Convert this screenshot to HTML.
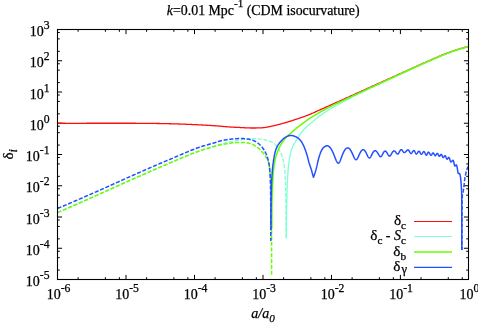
<!DOCTYPE html>
<html><head><meta charset="utf-8"><title>plot</title><style>html,body{margin:0;padding:0;background:#fff;width:478px;height:326px;overflow:hidden}</style></head><body>
<svg width="478" height="326" viewBox="0 0 478 326" style="position:absolute;left:0;top:0;will-change:transform">
<defs><clipPath id="c"><rect x="57.5" y="29.5" width="411.0" height="250.0"/></clipPath></defs>
<path d="M78.12 279.5 v-2.3 M78.12 29.5 v2.3 M105.38 279.5 v-2.3 M105.38 29.5 v2.3 M119.36 279.5 v-2.3 M119.36 29.5 v2.3 M126.00 279.5 v-4.6 M126.00 29.5 v4.6 M146.62 279.5 v-2.3 M146.62 29.5 v2.3 M173.88 279.5 v-2.3 M173.88 29.5 v2.3 M187.86 279.5 v-2.3 M187.86 29.5 v2.3 M194.50 279.5 v-4.6 M194.50 29.5 v4.6 M215.12 279.5 v-2.3 M215.12 29.5 v2.3 M242.38 279.5 v-2.3 M242.38 29.5 v2.3 M256.36 279.5 v-2.3 M256.36 29.5 v2.3 M263.00 279.5 v-4.6 M263.00 29.5 v4.6 M283.62 279.5 v-2.3 M283.62 29.5 v2.3 M310.88 279.5 v-2.3 M310.88 29.5 v2.3 M324.86 279.5 v-2.3 M324.86 29.5 v2.3 M331.50 279.5 v-4.6 M331.50 29.5 v4.6 M352.12 279.5 v-2.3 M352.12 29.5 v2.3 M379.38 279.5 v-2.3 M379.38 29.5 v2.3 M393.36 279.5 v-2.3 M393.36 29.5 v2.3 M400.40 279.5 v-4.6 M400.40 29.5 v4.6 M421.02 279.5 v-2.3 M421.02 29.5 v2.3 M448.28 279.5 v-2.3 M448.28 29.5 v2.3 M462.26 279.5 v-2.3 M462.26 29.5 v2.3 M57.5 270.09 h2.3 M468.5 270.09 h-2.3 M57.5 257.66 h2.3 M468.5 257.66 h-2.3 M57.5 251.28 h2.3 M468.5 251.28 h-2.3 M57.5 248.25 h4.6 M468.5 248.25 h-4.6 M57.5 238.84 h2.3 M468.5 238.84 h-2.3 M57.5 226.41 h2.3 M468.5 226.41 h-2.3 M57.5 220.03 h2.3 M468.5 220.03 h-2.3 M57.5 217.00 h4.6 M468.5 217.00 h-4.6 M57.5 207.59 h2.3 M468.5 207.59 h-2.3 M57.5 195.16 h2.3 M468.5 195.16 h-2.3 M57.5 188.78 h2.3 M468.5 188.78 h-2.3 M57.5 185.75 h4.6 M468.5 185.75 h-4.6 M57.5 176.34 h2.3 M468.5 176.34 h-2.3 M57.5 163.91 h2.3 M468.5 163.91 h-2.3 M57.5 157.53 h2.3 M468.5 157.53 h-2.3 M57.5 154.50 h4.6 M468.5 154.50 h-4.6 M57.5 145.09 h2.3 M468.5 145.09 h-2.3 M57.5 132.66 h2.3 M468.5 132.66 h-2.3 M57.5 126.28 h2.3 M468.5 126.28 h-2.3 M57.5 123.25 h4.6 M468.5 123.25 h-4.6 M57.5 113.84 h2.3 M468.5 113.84 h-2.3 M57.5 101.41 h2.3 M468.5 101.41 h-2.3 M57.5 95.03 h2.3 M468.5 95.03 h-2.3 M57.5 92.00 h4.6 M468.5 92.00 h-4.6 M57.5 82.59 h2.3 M468.5 82.59 h-2.3 M57.5 70.16 h2.3 M468.5 70.16 h-2.3 M57.5 63.78 h2.3 M468.5 63.78 h-2.3 M57.5 60.75 h4.6 M468.5 60.75 h-4.6 M57.5 51.34 h2.3 M468.5 51.34 h-2.3 M57.5 38.91 h2.3 M468.5 38.91 h-2.3 M57.5 32.53 h2.3 M468.5 32.53 h-2.3" stroke="#000" stroke-width="1" fill="none"/>
<g clip-path="url(#c)" fill="none" stroke-linejoin="round">
<path d="M57.50 123.25 L58.00 123.25 L58.50 123.25 L59.00 123.26 L59.50 123.26 L60.00 123.26 L60.50 123.26 L61.00 123.26 L61.50 123.27 L62.00 123.27 L62.50 123.27 L63.00 123.27 L63.50 123.27 L64.00 123.27 L64.50 123.27 L65.00 123.27 L65.50 123.28 L66.00 123.28 L66.50 123.28 L67.00 123.28 L67.50 123.28 L68.00 123.28 L68.50 123.28 L69.00 123.28 L69.50 123.28 L70.00 123.28 L70.50 123.28 L71.00 123.28 L71.50 123.28 L72.00 123.28 L72.50 123.28 L73.00 123.28 L73.50 123.28 L74.00 123.28 L74.50 123.28 L75.00 123.28 L75.50 123.28 L76.00 123.28 L76.50 123.28 L77.00 123.28 L77.50 123.28 L78.00 123.28 L78.50 123.28 L79.00 123.28 L79.50 123.28 L80.00 123.28 L80.50 123.28 L81.00 123.28 L81.50 123.28 L82.00 123.28 L82.50 123.28 L83.00 123.28 L83.50 123.28 L84.00 123.28 L84.50 123.28 L85.00 123.28 L85.50 123.28 L86.00 123.28 L86.50 123.27 L87.00 123.27 L87.50 123.27 L88.00 123.27 L88.50 123.27 L89.00 123.27 L89.50 123.27 L90.00 123.27 L90.50 123.27 L91.00 123.27 L91.50 123.27 L92.00 123.27 L92.50 123.26 L93.00 123.26 L93.50 123.26 L94.00 123.26 L94.50 123.26 L95.00 123.26 L95.50 123.26 L96.00 123.26 L96.50 123.26 L97.00 123.26 L97.50 123.25 L98.00 123.25 L98.50 123.25 L99.00 123.25 L99.50 123.25 L100.00 123.25 L100.50 123.25 L101.00 123.25 L101.50 123.25 L102.00 123.25 L102.50 123.25 L103.00 123.24 L103.50 123.24 L104.00 123.24 L104.50 123.24 L105.00 123.24 L105.50 123.24 L106.00 123.24 L106.50 123.24 L107.00 123.24 L107.50 123.24 L108.00 123.24 L108.50 123.24 L109.00 123.24 L109.50 123.24 L110.00 123.24 L110.50 123.23 L111.00 123.23 L111.50 123.23 L112.00 123.23 L112.50 123.23 L113.00 123.23 L113.50 123.23 L114.00 123.23 L114.50 123.23 L115.00 123.23 L115.50 123.23 L116.00 123.23 L116.50 123.23 L117.00 123.23 L117.50 123.23 L118.00 123.23 L118.50 123.23 L119.00 123.23 L119.50 123.23 L120.00 123.23 L120.50 123.23 L121.00 123.23 L121.50 123.23 L122.00 123.23 L122.50 123.23 L123.00 123.24 L123.50 123.24 L124.00 123.24 L124.50 123.24 L125.00 123.24 L125.50 123.24 L126.00 123.24 L126.50 123.24 L127.00 123.24 L127.50 123.24 L128.00 123.25 L128.50 123.25 L129.00 123.25 L129.50 123.25 L130.00 123.25 L130.50 123.25 L131.00 123.25 L131.50 123.26 L132.00 123.26 L132.50 123.26 L133.00 123.26 L133.50 123.26 L134.00 123.27 L134.50 123.27 L135.00 123.27 L135.50 123.27 L136.00 123.28 L136.50 123.28 L137.00 123.28 L137.50 123.28 L138.00 123.29 L138.50 123.29 L139.00 123.29 L139.50 123.30 L140.00 123.30 L140.50 123.30 L141.00 123.31 L141.50 123.31 L142.00 123.31 L142.50 123.32 L143.00 123.32 L143.50 123.33 L144.00 123.33 L144.50 123.33 L145.00 123.34 L145.50 123.34 L146.00 123.35 L146.50 123.35 L147.00 123.36 L147.50 123.36 L148.00 123.37 L148.50 123.37 L149.00 123.38 L149.50 123.38 L150.00 123.39 L150.50 123.39 L151.00 123.40 L151.50 123.41 L152.00 123.41 L152.50 123.42 L153.00 123.42 L153.50 123.43 L154.00 123.44 L154.50 123.45 L155.00 123.45 L155.50 123.46 L156.00 123.47 L156.50 123.47 L157.00 123.48 L157.50 123.49 L158.00 123.50 L158.50 123.51 L159.00 123.51 L159.50 123.52 L160.00 123.53 L160.50 123.54 L161.00 123.55 L161.50 123.56 L162.00 123.57 L162.50 123.58 L163.00 123.59 L163.50 123.60 L164.00 123.61 L164.50 123.62 L165.00 123.63 L165.50 123.64 L166.00 123.65 L166.50 123.66 L167.00 123.67 L167.50 123.68 L168.00 123.70 L168.50 123.71 L169.00 123.72 L169.50 123.73 L170.00 123.74 L170.50 123.76 L171.00 123.77 L171.50 123.78 L172.00 123.80 L172.50 123.81 L173.00 123.82 L173.50 123.84 L174.00 123.85 L174.50 123.87 L175.00 123.88 L175.50 123.90 L176.00 123.91 L176.50 123.93 L177.00 123.94 L177.50 123.96 L178.00 123.97 L178.50 123.99 L179.00 124.01 L179.50 124.02 L180.00 124.04 L180.50 124.06 L181.00 124.07 L181.50 124.09 L182.00 124.11 L182.50 124.13 L183.00 124.14 L183.50 124.16 L184.00 124.18 L184.50 124.20 L185.00 124.22 L185.50 124.24 L186.00 124.26 L186.50 124.28 L187.00 124.30 L187.50 124.32 L188.00 124.34 L188.50 124.36 L189.00 124.38 L189.50 124.40 L190.00 124.42 L190.50 124.44 L191.00 124.46 L191.50 124.48 L192.00 124.51 L192.50 124.53 L193.00 124.55 L193.50 124.57 L194.00 124.60 L194.50 124.62 L195.00 124.64 L195.50 124.67 L196.00 124.69 L196.50 124.71 L197.00 124.74 L197.50 124.76 L198.00 124.79 L198.50 124.81 L199.00 124.84 L199.50 124.86 L200.00 124.89 L200.50 124.91 L201.00 124.94 L201.50 124.96 L202.00 124.99 L202.50 125.02 L203.00 125.04 L203.50 125.07 L204.00 125.10 L204.50 125.12 L205.00 125.15 L205.50 125.18 L206.00 125.21 L206.50 125.23 L207.00 125.26 L207.50 125.29 L208.00 125.32 L208.50 125.35 L209.00 125.38 L209.50 125.41 L210.00 125.44 L210.50 125.47 L211.00 125.50 L211.50 125.53 L212.00 125.56 L212.50 125.60 L213.00 125.63 L213.50 125.66 L214.00 125.70 L214.50 125.73 L215.00 125.77 L215.50 125.81 L216.00 125.84 L216.50 125.88 L217.00 125.92 L217.50 125.96 L218.00 126.00 L218.50 126.04 L219.00 126.08 L219.50 126.13 L220.00 126.17 L220.50 126.21 L221.00 126.26 L221.50 126.30 L222.00 126.35 L222.50 126.39 L223.00 126.44 L223.50 126.48 L224.00 126.53 L224.50 126.57 L225.00 126.61 L225.50 126.66 L226.00 126.70 L226.50 126.74 L227.00 126.78 L227.50 126.82 L228.00 126.86 L228.50 126.90 L229.00 126.93 L229.50 126.97 L230.00 127.00 L230.50 127.03 L231.00 127.06 L231.50 127.09 L232.00 127.12 L232.50 127.14 L233.00 127.17 L233.50 127.20 L234.00 127.22 L234.50 127.24 L235.00 127.27 L235.50 127.29 L236.00 127.31 L236.50 127.33 L237.00 127.36 L237.50 127.38 L238.00 127.40 L238.50 127.43 L239.00 127.45 L239.50 127.47 L240.00 127.50 L240.50 127.53 L241.00 127.55 L241.50 127.58 L242.00 127.61 L242.50 127.64 L243.00 127.67 L243.50 127.70 L244.00 127.72 L244.50 127.75 L245.00 127.78 L245.50 127.80 L246.00 127.83 L246.50 127.85 L247.00 127.88 L247.50 127.90 L248.00 127.91 L248.50 127.93 L249.00 127.95 L249.50 127.96 L250.00 127.97 L250.50 127.98 L251.00 127.99 L251.50 128.00 L252.00 128.00 L252.50 128.00 L253.00 128.00 L253.50 128.00 L254.00 128.00 L254.50 128.00 L255.00 127.99 L255.50 127.99 L256.00 127.98 L256.50 127.97 L257.00 127.97 L257.50 127.96 L258.00 127.95 L258.50 127.94 L259.00 127.93 L259.50 127.92 L260.00 127.90 L260.50 127.89 L261.00 127.86 L261.50 127.83 L262.00 127.80 L262.50 127.76 L263.00 127.71 L263.50 127.66 L264.00 127.59 L264.50 127.53 L265.00 127.46 L265.50 127.38 L266.00 127.30 L266.50 127.22 L267.00 127.13 L267.50 127.03 L268.00 126.94 L268.50 126.84 L269.00 126.74 L269.50 126.64 L270.00 126.53 L270.50 126.43 L271.00 126.32 L271.50 126.21 L272.00 126.10 L272.50 125.99 L273.00 125.88 L273.50 125.77 L274.00 125.65 L274.50 125.54 L275.00 125.43 L275.50 125.31 L276.00 125.19 L276.50 125.07 L277.00 124.95 L277.50 124.83 L278.00 124.70 L278.50 124.57 L279.00 124.44 L279.50 124.31 L280.00 124.18 L280.50 124.04 L281.00 123.90 L281.50 123.77 L282.00 123.63 L282.50 123.49 L283.00 123.35 L283.50 123.21 L284.00 123.07 L284.50 122.93 L285.00 122.79 L285.50 122.64 L286.00 122.50 L286.50 122.35 L287.00 122.20 L287.50 122.05 L288.00 121.90 L288.50 121.74 L289.00 121.59 L289.50 121.43 L290.00 121.27 L290.50 121.11 L291.00 120.95 L291.50 120.79 L292.00 120.63 L292.50 120.47 L293.00 120.31 L293.50 120.15 L294.00 119.98 L294.50 119.82 L295.00 119.66 L295.50 119.49 L296.00 119.33 L296.50 119.16 L297.00 119.00 L297.50 118.83 L298.00 118.66 L298.50 118.50 L299.00 118.33 L299.50 118.16 L300.00 117.99 L300.50 117.82 L301.00 117.65 L301.50 117.47 L302.00 117.30 L302.50 117.13 L303.00 116.95 L303.50 116.77 L304.00 116.60 L304.50 116.42 L305.00 116.24 L305.50 116.05 L306.00 115.87 L306.50 115.68 L307.00 115.49 L307.50 115.30 L308.00 115.11 L308.50 114.91 L309.00 114.71 L309.50 114.51 L310.00 114.30 L310.50 114.09 L311.00 113.88 L311.50 113.66 L312.00 113.44 L312.50 113.22 L313.00 113.00 L313.50 112.78 L314.00 112.55 L314.50 112.32 L315.00 112.09 L315.50 111.87 L316.00 111.64 L316.50 111.41 L317.00 111.18 L317.50 110.95 L318.00 110.72 L318.50 110.49 L319.00 110.26 L319.50 110.04 L320.00 109.81 L320.50 109.59 L321.00 109.37 L321.50 109.14 L322.00 108.92 L322.50 108.70 L323.00 108.48 L323.50 108.26 L324.00 108.04 L324.50 107.82 L325.00 107.59 L325.50 107.37 L326.00 107.15 L326.50 106.92 L327.00 106.70 L327.50 106.47 L328.00 106.25 L328.50 106.02 L329.00 105.79 L329.50 105.56 L330.00 105.34 L330.50 105.11 L331.00 104.88 L331.50 104.65 L332.00 104.42 L332.50 104.19 L333.00 103.97 L333.50 103.74 L334.00 103.51 L334.50 103.29 L335.00 103.07 L335.50 102.84 L336.00 102.62 L336.50 102.40 L337.00 102.19 L337.50 101.97 L338.00 101.75 L338.50 101.53 L339.00 101.32 L339.50 101.10 L340.00 100.88 L340.50 100.65 L341.00 100.43 L341.50 100.20 L342.00 99.97 L342.50 99.75 L343.00 99.52 L343.50 99.30 L344.00 99.07 L344.50 98.84 L345.00 98.62 L345.50 98.39 L346.00 98.16 L346.50 97.94 L347.00 97.71 L347.50 97.49 L348.00 97.26 L348.50 97.03 L349.00 96.81 L349.50 96.58 L350.00 96.35 L350.50 96.13 L351.00 95.90 L351.50 95.68 L352.00 95.45 L352.50 95.22 L353.00 95.00 L353.50 94.77 L354.00 94.54 L354.50 94.32 L355.00 94.09 L355.50 93.86 L356.00 93.64 L356.50 93.41 L357.00 93.19 L357.50 92.96 L358.00 92.73 L358.50 92.51 L359.00 92.28 L359.50 92.05 L360.00 91.83 L360.50 91.60 L361.00 91.38 L361.50 91.15 L362.00 90.92 L362.50 90.70 L363.00 90.47 L363.50 90.24 L364.00 90.02 L364.50 89.79 L365.00 89.57 L365.50 89.34 L366.00 89.11 L366.50 88.89 L367.00 88.66 L367.50 88.43 L368.00 88.21 L368.50 87.98 L369.00 87.75 L369.50 87.53 L370.00 87.30 L370.50 87.08 L371.00 86.85 L371.50 86.62 L372.00 86.40 L372.50 86.17 L373.00 85.94 L373.50 85.72 L374.00 85.49 L374.50 85.27 L375.00 85.04 L375.50 84.81 L376.00 84.59 L376.50 84.36 L377.00 84.13 L377.50 83.91 L378.00 83.68 L378.50 83.46 L379.00 83.23 L379.50 83.00 L380.00 82.78 L380.50 82.55 L381.00 82.32 L381.50 82.10 L382.00 81.87 L382.50 81.65 L383.00 81.42 L383.50 81.19 L384.00 80.97 L384.50 80.74 L385.00 80.51 L385.50 80.29 L386.00 80.06 L386.50 79.84 L387.00 79.61 L387.50 79.38 L388.00 79.16 L388.50 78.93 L389.00 78.70 L389.50 78.48 L390.00 78.25 L390.50 78.03 L391.00 77.80 L391.50 77.57 L392.00 77.35 L392.50 77.12 L393.00 76.90 L393.50 76.67 L394.00 76.44 L394.50 76.22 L395.00 75.99 L395.50 75.77 L396.00 75.54 L396.50 75.31 L397.00 75.09 L397.50 74.86 L398.00 74.63 L398.50 74.41 L399.00 74.18 L399.50 73.96 L400.00 73.73 L400.50 73.51 L401.00 73.28 L401.50 73.05 L402.00 72.83 L402.50 72.60 L403.00 72.38 L403.50 72.15 L404.00 71.92 L404.50 71.70 L405.00 71.47 L405.50 71.25 L406.00 71.02 L406.50 70.80 L407.00 70.57 L407.50 70.34 L408.00 70.12 L408.50 69.89 L409.00 69.67 L409.50 69.44 L410.00 69.22 L410.50 68.99 L411.00 68.77 L411.50 68.54 L412.00 68.32 L412.50 68.09 L413.00 67.87 L413.50 67.64 L414.00 67.42 L414.50 67.19 L415.00 66.97 L415.50 66.74 L416.00 66.52 L416.50 66.29 L417.00 66.07 L417.50 65.84 L418.00 65.62 L418.50 65.40 L419.00 65.17 L419.50 64.95 L420.00 64.72 L420.50 64.50 L421.00 64.28 L421.50 64.05 L422.00 63.83 L422.50 63.61 L423.00 63.39 L423.50 63.16 L424.00 62.94 L424.50 62.72 L425.00 62.50 L425.50 62.27 L426.00 62.05 L426.50 61.83 L427.00 61.61 L427.50 61.39 L428.00 61.17 L428.50 60.95 L429.00 60.73 L429.50 60.51 L430.00 60.29 L430.50 60.07 L431.00 59.85 L431.50 59.63 L432.00 59.41 L432.50 59.20 L433.00 58.98 L433.50 58.76 L434.00 58.55 L434.50 58.33 L435.00 58.12 L435.50 57.90 L436.00 57.69 L436.50 57.47 L437.00 57.26 L437.50 57.05 L438.00 56.84 L438.50 56.63 L439.00 56.42 L439.50 56.21 L440.00 56.00 L440.50 55.79 L441.00 55.58 L441.50 55.38 L442.00 55.17 L442.50 54.97 L443.00 54.76 L443.50 54.56 L444.00 54.36 L444.50 54.16 L445.00 53.96 L445.50 53.76 L446.00 53.57 L446.50 53.37 L447.00 53.18 L447.50 52.98 L448.00 52.79 L448.50 52.60 L449.00 52.41 L449.50 52.23 L450.00 52.04 L450.50 51.86 L451.00 51.67 L451.50 51.49 L452.00 51.31 L452.50 51.14 L453.00 50.96 L453.50 50.79 L454.00 50.62 L454.50 50.45 L455.00 50.28 L455.50 50.11 L456.00 49.95 L456.50 49.79 L457.00 49.63 L457.50 49.47 L458.00 49.31 L458.50 49.16 L459.00 49.01 L459.50 48.86 L460.00 48.71 L460.50 48.57 L461.00 48.42 L461.50 48.28 L462.00 48.15 L462.50 48.01 L463.00 47.88 L463.50 47.75 L464.00 47.62 L464.50 47.49 L465.00 47.37 L465.50 47.24 L466.00 47.12 L466.50 47.01 L467.00 46.89 L467.50 46.78 L468.00 46.67 L468.50 46.56" stroke="#ff0d0d" stroke-width="1.3"/>
<path d="M286.40 238.60 L286.40 238.19 L286.40 237.79 L286.40 237.38 L286.40 236.97 L286.40 236.57 L286.40 236.16 L286.40 235.75 L286.40 235.35 L286.40 234.94 L286.40 234.53 L286.40 234.12 L286.41 233.72 L286.41 233.31 L286.41 232.90 L286.41 232.50 L286.41 232.09 L286.41 231.68 L286.41 231.28 L286.41 230.87 L286.41 230.46 L286.42 230.06 L286.42 229.65 L286.42 229.24 L286.42 228.84 L286.42 228.43 L286.42 228.02 L286.43 227.62 L286.43 227.21 L286.43 226.80 L286.43 226.39 L286.43 225.99 L286.43 225.58 L286.44 225.17 L286.44 224.77 L286.44 224.36 L286.44 223.95 L286.45 223.55 L286.45 223.14 L286.45 222.73 L286.45 222.33 L286.45 221.92 L286.46 221.51 L286.46 221.11 L286.46 220.70 L286.46 220.29 L286.47 219.89 L286.47 219.48 L286.47 219.07 L286.47 218.67 L286.48 218.26 L286.48 217.85 L286.48 217.45 L286.49 217.04 L286.49 216.63 L286.49 216.22 L286.49 215.82 L286.50 215.41 L286.50 215.00 L286.50 214.60 L286.51 214.19 L286.51 213.78 L286.51 213.38 L286.52 212.97 L286.52 212.56 L286.53 212.16 L286.53 211.75 L286.54 211.34 L286.54 210.94 L286.55 210.53 L286.56 210.12 L286.56 209.72 L286.57 209.31 L286.57 208.90 L286.58 208.50 L286.59 208.09 L286.60 207.68 L286.60 207.28 L286.61 206.87 L286.62 206.46 L286.63 206.05 L286.64 205.65 L286.64 205.24 L286.65 204.83 L286.66 204.43 L286.67 204.02 L286.68 203.61 L286.69 203.21 L286.70 202.80 L286.71 202.39 L286.72 201.99 L286.73 201.58 L286.74 201.17 L286.75 200.77 L286.76 200.36 L286.77 199.95 L286.78 199.55 L286.79 199.14 L286.80 198.73 L286.81 198.33 L286.82 197.92 L286.83 197.51 L286.84 197.11 L286.85 196.70 L286.87 196.29 L286.88 195.89 L286.89 195.48 L286.90 195.07 L286.91 194.67 L286.92 194.26 L286.93 193.85 L286.94 193.45 L286.96 193.04 L286.97 192.63 L286.98 192.23 L287.00 191.82 L287.01 191.41 L287.02 191.01 L287.04 190.60 L287.05 190.19 L287.07 189.79 L287.08 189.38 L287.10 188.97 L287.11 188.57 L287.13 188.16 L287.14 187.75 L287.16 187.35 L287.18 186.94 L287.19 186.53 L287.21 186.13 L287.23 185.72 L287.25 185.32 L287.26 184.91 L287.28 184.50 L287.30 184.10 L287.32 183.69 L287.34 183.28 L287.36 182.88 L287.38 182.47 L287.40 182.06 L287.42 181.66 L287.44 181.25 L287.46 180.85 L287.48 180.44 L287.50 180.03 L287.52 179.63 L287.54 179.22 L287.56 178.81 L287.58 178.41 L287.61 178.00 L287.63 177.59 L287.65 177.19 L287.68 176.78 L287.70 176.37 L287.72 175.97 L287.75 175.56 L287.77 175.15 L287.80 174.75 L287.82 174.34 L287.85 173.93 L287.88 173.53 L287.91 173.12 L287.93 172.71 L287.96 172.31 L287.99 171.90 L288.02 171.50 L288.05 171.09 L288.08 170.68 L288.12 170.28 L288.15 169.87 L288.18 169.47 L288.22 169.06 L288.25 168.66 L288.29 168.25 L288.32 167.85 L288.36 167.44 L288.40 167.04 L288.43 166.63 L288.47 166.23 L288.51 165.83 L288.56 165.42 L288.60 165.02 L288.64 164.62 L288.69 164.21 L288.73 163.81 L288.78 163.40 L288.83 163.00 L288.88 162.59 L288.94 162.19 L288.99 161.78 L289.05 161.37 L289.11 160.97 L289.17 160.56 L289.23 160.16 L289.30 159.75 L289.36 159.34 L289.43 158.94 L289.50 158.53 L289.57 158.13 L289.64 157.72 L289.72 157.32 L289.79 156.91 L289.87 156.51 L289.95 156.11 L290.03 155.71 L290.12 155.31 L290.20 154.91 L290.29 154.51 L290.38 154.11 L290.47 153.72 L290.56 153.32 L290.65 152.93 L290.75 152.54 L290.85 152.15 L290.95 151.76 L291.05 151.37 L291.15 150.99 L291.26 150.60 L291.37 150.22 L291.48 149.84 L291.60 149.46 L291.72 149.09 L291.86 148.71 L292.00 148.34 L292.15 147.96 L292.31 147.59 L292.47 147.22 L292.64 146.85 L292.82 146.48 L293.00 146.11 L293.18 145.75 L293.37 145.38 L293.57 145.02 L293.76 144.66 L293.96 144.30 L294.17 143.94 L294.37 143.58 L294.58 143.22 L294.78 142.86 L294.99 142.50 L295.20 142.15 L295.41 141.79 L295.62 141.44 L295.83 141.08 L296.03 140.73 L296.24 140.38 L296.44 140.03 L296.65 139.68 L296.85 139.33 L297.06 138.98 L297.28 138.64 L297.50 138.30 L297.72 137.95 L297.94 137.61 L298.16 137.27 L298.39 136.93 L298.62 136.59 L298.85 136.26 L299.08 135.92 L299.31 135.58 L299.54 135.25 L299.78 134.92 L300.01 134.59 L300.24 134.25 L300.48 133.92 L300.72 133.59 L300.95 133.26 L301.19 132.93 L301.43 132.60 L301.68 132.27 L301.92 131.94 L302.17 131.62 L302.42 131.30 L302.67 130.98 L302.93 130.66 L303.19 130.35 L303.46 130.05 L303.73 129.75 L304.00 129.45 L304.28 129.16 L304.57 128.87 L304.86 128.59 L305.16 128.31 L305.45 128.03 L305.75 127.75 L306.05 127.47 L306.35 127.20 L306.65 126.92 L306.95 126.64 L307.25 126.37 L307.55 126.09 L307.85 125.82 L308.15 125.55 L308.46 125.28 L308.76 125.01 L309.07 124.74 L309.37 124.47 L309.68 124.20 L309.99 123.94 L310.30 123.67 L310.80 123.24 L311.30 122.80 L311.80 122.37 L312.30 121.93 L312.80 121.50 L313.30 121.07 L313.80 120.64 L314.30 120.22 L314.80 119.80 L315.30 119.38 L315.80 118.97 L316.30 118.57 L316.80 118.17 L317.30 117.77 L317.80 117.38 L318.30 117.00 L318.80 116.63 L319.30 116.26 L319.80 115.89 L320.30 115.53 L320.80 115.17 L321.30 114.82 L321.80 114.47 L322.30 114.13 L322.80 113.78 L323.30 113.45 L323.80 113.11 L324.30 112.78 L324.80 112.45 L325.30 112.12 L325.80 111.80 L326.30 111.48 L326.80 111.16 L327.30 110.85 L327.80 110.53 L328.30 110.22 L328.80 109.91 L329.30 109.60 L329.80 109.30 L330.30 108.99 L330.80 108.69 L331.30 108.39 L331.80 108.09 L332.30 107.79 L332.80 107.50 L333.30 107.21 L333.80 106.92 L334.30 106.63 L334.80 106.35 L335.30 106.07 L335.80 105.79 L336.30 105.51 L336.80 105.24 L337.30 104.97 L337.80 104.69 L338.30 104.42 L338.80 104.15 L339.30 103.89 L339.80 103.62 L340.30 103.35 L340.80 103.07 L341.30 102.80 L341.80 102.53 L342.30 102.26 L342.80 101.99 L343.30 101.72 L343.80 101.45 L344.30 101.19 L344.80 100.92 L345.30 100.66 L345.80 100.40 L346.30 100.14 L346.80 99.87 L347.30 99.61 L347.80 99.35 L348.30 99.09 L348.80 98.84 L349.30 98.58 L349.80 98.32 L350.30 98.06 L350.80 97.81 L351.30 97.55 L351.80 97.30 L352.30 97.04 L352.80 96.79 L353.30 96.54 L353.80 96.28 L354.30 96.03 L354.80 95.78 L355.30 95.53 L355.80 95.28 L356.30 95.03 L356.80 94.78 L357.30 94.53 L357.80 94.28 L358.30 94.04 L358.80 93.79 L359.30 93.54 L359.80 93.29 L360.30 93.04 L360.80 92.80 L361.30 92.55 L361.80 92.30 L362.30 92.06 L362.80 91.81 L363.30 91.57 L363.80 91.32 L364.30 91.08 L364.80 90.83 L365.30 90.59 L365.80 90.34 L366.30 90.10 L366.80 89.85 L367.30 89.61 L367.80 89.37 L368.30 89.13 L368.80 88.88 L369.30 88.64 L369.80 88.40 L370.30 88.16 L370.80 87.92 L371.30 87.68 L371.80 87.44 L372.30 87.20 L372.80 86.96 L373.30 86.72 L373.80 86.48 L374.30 86.24 L374.80 86.00 L375.30 85.77 L375.80 85.53 L376.30 85.29 L376.80 85.05 L377.30 84.82 L377.80 84.58 L378.30 84.34 L378.80 84.11 L379.30 83.87 L379.80 83.63 L380.30 83.40 L380.80 83.16 L381.30 82.93 L381.80 82.69 L382.30 82.46 L382.80 82.22 L383.30 81.99 L383.80 81.75 L384.30 81.52 L384.80 81.28 L385.30 81.05 L385.80 80.81 L386.30 80.58 L386.80 80.35 L387.30 80.11 L387.80 79.88 L388.30 79.64 L388.80 79.41 L389.30 79.18 L389.80 78.95 L390.30 78.71 L390.80 78.48 L391.30 78.25 L391.80 78.02 L392.30 77.78 L392.80 77.55 L393.30 77.32 L393.80 77.09 L394.30 76.85 L394.80 76.62 L395.30 76.39 L395.80 76.16 L396.30 75.92 L396.80 75.69 L397.30 75.46 L397.80 75.23 L398.30 75.00 L398.80 74.77 L399.30 74.54 L399.80 74.30 L400.30 74.07 L400.80 73.84 L401.30 73.61 L401.80 73.38 L402.30 73.15 L402.80 72.92 L403.30 72.69 L403.80 72.46 L404.30 72.23 L404.80 72.00 L405.30 71.77 L405.80 71.54 L406.30 71.31 L406.80 71.08 L407.30 70.85 L407.80 70.62 L408.30 70.39 L408.80 70.16 L409.30 69.94 L409.80 69.71 L410.30 69.48 L410.80 69.25 L411.30 69.03 L411.80 68.80 L412.30 68.57 L412.80 68.34 L413.30 68.12 L413.80 67.89 L414.30 67.66 L414.80 67.43 L415.30 67.21 L415.80 66.98 L416.30 66.75 L416.80 66.53 L417.30 66.30 L417.80 66.07 L418.30 65.85 L418.80 65.62 L419.30 65.40 L419.80 65.17 L420.30 64.95 L420.80 64.72 L421.30 64.50 L421.80 64.27 L422.30 64.05 L422.80 63.82 L423.30 63.60 L423.80 63.37 L424.30 63.15 L424.80 62.92 L425.30 62.70 L425.80 62.48 L426.30 62.26 L426.80 62.03 L427.30 61.81 L427.80 61.59 L428.30 61.37 L428.80 61.14 L429.30 60.92 L429.80 60.70 L430.30 60.48 L430.80 60.26 L431.30 60.04 L431.80 59.82 L432.30 59.60 L432.80 59.38 L433.30 59.17 L433.80 58.95 L434.30 58.73 L434.80 58.51 L435.30 58.30 L435.80 58.08 L436.30 57.87 L436.80 57.65 L437.30 57.44 L437.80 57.23 L438.30 57.01 L438.80 56.80 L439.30 56.59 L439.80 56.38 L440.30 56.17 L440.80 55.96 L441.30 55.76 L441.80 55.55 L442.30 55.34 L442.80 55.14 L443.30 54.93 L443.80 54.73 L444.30 54.53 L444.80 54.33 L445.30 54.13 L445.80 53.93 L446.30 53.73 L446.80 53.54 L447.30 53.34 L447.80 53.15 L448.30 52.96 L448.80 52.77 L449.30 52.58 L449.80 52.39 L450.30 52.21 L450.80 52.02 L451.30 51.84 L451.80 51.66 L452.30 51.48 L452.80 51.30 L453.30 51.13 L453.80 50.96 L454.30 50.78 L454.80 50.61 L455.30 50.45 L455.80 50.28 L456.30 50.12 L456.80 49.96 L457.30 49.80 L457.80 49.64 L458.30 49.48 L458.80 49.33 L459.30 49.18 L459.80 49.03 L460.30 48.88 L460.80 48.74 L461.30 48.60 L461.80 48.46 L462.30 48.32 L462.80 48.19 L463.30 48.05 L463.80 47.92 L464.30 47.79 L464.80 47.67 L465.30 47.55 L465.80 47.42 L466.30 47.31 L466.80 47.19 L467.30 47.07 L467.80 46.96 L468.30 46.85" stroke="#7fffd4" stroke-width="1.3"/>
<path d="M57.50 212.60 L58.26 212.27 L59.02 211.95 L59.78 211.62 L60.54 211.29 L61.29 210.96 L62.05 210.64 L62.81 210.31 L63.57 209.98 L64.33 209.65 L65.09 209.32 L65.84 208.99 L66.60 208.67 L67.36 208.34 L68.12 208.01 L68.87 207.68 L69.63 207.35 L70.39 207.01 L71.15 206.68 L71.90 206.35 L72.66 206.02 L73.42 205.69 L74.17 205.36 L74.93 205.03 L75.69 204.70 L76.44 204.36 L77.20 204.03 L77.96 203.70 L78.71 203.36 L79.47 203.03 L80.22 202.70 L80.98 202.36 L81.74 202.03 L82.49 201.70 L83.25 201.36 L84.00 201.03 L84.76 200.69 L85.51 200.36 L86.27 200.02 L87.02 199.69 L87.78 199.35 L88.53 199.02 L89.29 198.68 L90.04 198.35 L90.80 198.01 L91.55 197.68 L92.31 197.34 L93.06 197.00 L93.82 196.67 L94.57 196.33 L95.33 195.99 L96.08 195.65 L96.83 195.32 L97.59 194.98 L98.34 194.64 L99.10 194.30 L99.85 193.97 L100.60 193.63 L101.36 193.29 L102.11 192.95 L102.86 192.61 L103.62 192.27 L104.37 191.93 L105.12 191.58 L105.87 191.24 L106.62 190.90 L107.37 190.55 L108.12 190.21 L108.88 189.86 L109.63 189.52 L110.38 189.17 L111.13 188.83 L111.88 188.49 L112.63 188.14 L113.38 187.80 L114.13 187.45 L114.89 187.11 L115.64 186.77 L116.39 186.43 L117.14 186.09 L117.90 185.75 L118.65 185.41 L119.40 185.07 L120.16 184.73 L120.91 184.39 L121.66 184.06 L122.42 183.72 L123.17 183.39 L123.93 183.05 L124.69 182.72 L125.44 182.38 L126.20 182.05 L126.95 181.72 L127.71 181.39 L128.47 181.05 L129.22 180.72 L129.98 180.39 L130.74 180.06 L131.49 179.73 L132.25 179.40 L133.01 179.06 L133.76 178.73 L134.52 178.40 L135.28 178.07 L136.04 177.74 L136.79 177.41 L137.55 177.08 L138.31 176.74 L139.06 176.41 L139.82 176.08 L140.57 175.75 L141.33 175.41 L142.09 175.08 L142.84 174.75 L143.60 174.41 L144.35 174.08 L145.11 173.74 L145.87 173.41 L146.62 173.08 L147.38 172.74 L148.13 172.41 L148.89 172.07 L149.64 171.74 L150.40 171.41 L151.16 171.07 L151.91 170.74 L152.67 170.41 L153.42 170.07 L154.18 169.74 L154.94 169.41 L155.69 169.08 L156.45 168.75 L157.21 168.41 L157.96 168.08 L158.72 167.75 L159.48 167.43 L160.24 167.10 L161.00 166.77 L161.75 166.44 L162.51 166.12 L163.27 165.79 L164.03 165.46 L164.79 165.14 L165.55 164.81 L166.31 164.49 L167.07 164.16 L167.83 163.84 L168.59 163.52 L169.35 163.19 L170.11 162.87 L170.87 162.55 L171.63 162.22 L172.39 161.90 L173.15 161.58 L173.92 161.26 L174.68 160.94 L175.44 160.61 L176.20 160.29 L176.96 159.97 L177.72 159.65 L178.48 159.33 L179.24 159.00 L180.00 158.68 L180.76 158.36 L181.53 158.04 L182.29 157.72 L183.05 157.40 L183.81 157.09 L184.58 156.77 L185.34 156.45 L186.11 156.14 L186.87 155.83 L187.64 155.52 L188.40 155.21 L189.17 154.89 L189.93 154.58 L190.70 154.27 L191.46 153.96 L192.23 153.65 L193.00 153.34 L193.77 153.03 L194.54 152.73 L195.31 152.44 L196.08 152.14 L196.85 151.86 L197.63 151.57 L198.40 151.30 L199.18 151.03 L199.97 150.76 L200.75 150.50 L201.54 150.25 L202.32 150.00 L203.11 149.75 L203.90 149.50 L204.69 149.26 L205.48 149.02 L206.27 148.77 L207.06 148.54 L207.85 148.30 L208.64 148.06 L209.44 147.82 L210.23 147.59 L211.03 147.37 L211.82 147.15 L212.62 146.92 L213.41 146.69 L214.20 146.45 L214.99 146.20 L215.77 145.94 L216.55 145.65 L217.32 145.36 L218.09 145.07 L218.87 144.78 L219.65 144.51 L220.44 144.27 L221.23 144.03 L222.02 143.80 L222.82 143.58 L223.62 143.37 L224.42 143.16 L225.22 142.96 L226.02 142.76 L226.83 142.57 L227.63 142.39 L228.44 142.21 L229.25 142.03 L230.05 141.86 L230.86 141.70 L231.67 141.53 L232.49 141.38 L233.30 141.22 L234.11 141.07 L234.92 140.91 L235.73 140.77 L236.55 140.62 L237.36 140.47 L238.18 140.33 L238.99 140.20 L239.81 140.07 L240.62 139.94 L241.44 139.82 L242.26 139.70 L243.08 139.57 L243.89 139.45 L244.71 139.34 L245.53 139.24 L246.35 139.16 L247.18 139.09 L248.00 139.02 L248.82 138.96 L249.65 138.90 L250.47 138.84 L251.30 138.79 L252.13 138.75 L252.95 138.72 L253.78 138.70 L254.60 138.70 L255.43 138.72 L256.25 138.76 L257.08 138.81 L257.91 138.88 L258.73 138.96 L259.56 139.04 L260.38 139.13 L261.19 139.22 L262.01 139.33 L262.83 139.45 L263.66 139.59 L264.48 139.75 L265.31 139.93 L266.13 140.13 L266.94 140.34 L267.75 140.56 L268.55 140.81 L269.33 141.06 L270.09 141.33 L270.84 141.62 L271.57 141.92 L272.30 142.29 L273.01 142.73 L273.70 143.22 L274.36 143.75 L274.99 144.30 L275.56 144.87 L276.10 145.49 L276.60 146.15 L277.08 146.84 L277.55 147.53 L278.01 148.21 L278.48 148.90 L278.94 149.59 L279.39 150.29 L279.82 151.01 L280.23 151.73 L280.61 152.46 L280.95 153.19 L281.27 153.95 L281.56 154.72 L281.83 155.50 L282.08 156.29 L282.33 157.09 L282.56 157.88 L282.80 158.67 L283.03 159.47 L283.26 160.26 L283.47 161.06 L283.67 161.87 L283.84 162.67 L283.98 163.48 L284.12 164.30 L284.24 165.11 L284.36 165.93 L284.47 166.75 L284.57 167.58 L284.66 168.40 L284.74 169.22 L284.80 170.04 L284.86 170.87 L284.92 171.69 L284.97 172.51 L285.02 173.34 L285.07 174.16 L285.11 174.99 L285.16 175.81 L285.20 176.64 L285.24 177.46 L285.27 178.29 L285.31 179.12 L285.34 179.94 L285.37 180.77 L285.40 181.60 L285.43 182.42 L285.45 183.25 L285.48 184.07 L285.50 184.90 L285.52 185.73 L285.54 186.55 L285.56 187.38 L285.58 188.20 L285.59 189.03 L285.61 189.85 L285.63 190.68 L285.64 191.51 L285.66 192.33 L285.67 193.16 L285.69 193.99 L285.70 194.81 L285.72 195.64 L285.73 196.46 L285.74 197.29 L285.76 198.12 L285.77 198.94 L285.78 199.77 L285.79 200.59 L285.80 201.42 L285.81 202.25 L285.82 203.07 L285.83 203.90 L285.84 204.73 L285.85 205.55 L285.86 206.38 L285.87 207.20 L285.88 208.03 L285.89 208.86 L285.90 209.68 L285.90 210.51 L285.91 211.34 L285.92 212.16 L285.93 212.99 L285.94 213.81 L285.94 214.64 L285.95 215.47 L285.96 216.29 L285.97 217.12 L285.97 217.94 L285.98 218.77 L285.99 219.60 L286.00 220.42 L286.00 221.25 L286.01 222.08 L286.02 222.90 L286.02 223.73 L286.03 224.55 L286.04 225.38 L286.04 226.21 L286.05 227.03 L286.05 227.86 L286.06 228.69 L286.06 229.51 L286.07 230.34 L286.07 231.16 L286.08 231.99 L286.08 232.82 L286.08 233.64 L286.09 234.47 L286.09 235.30 L286.09 236.12 L286.10 236.95 L286.10 237.77 L286.10 238.60" stroke="#7fffd4" stroke-width="1.3" stroke-dasharray="4.1 1.7"/>
<path d="M271.80 229.00 L271.80 228.58 L271.80 228.16 L271.80 227.74 L271.80 227.32 L271.80 226.90 L271.80 226.48 L271.80 226.06 L271.80 225.64 L271.81 225.22 L271.81 224.80 L271.81 224.38 L271.81 223.96 L271.81 223.54 L271.81 223.12 L271.81 222.70 L271.82 222.28 L271.82 221.86 L271.82 221.44 L271.82 221.02 L271.82 220.60 L271.83 220.18 L271.83 219.76 L271.83 219.34 L271.83 218.92 L271.84 218.50 L271.84 218.08 L271.84 217.66 L271.84 217.24 L271.85 216.82 L271.85 216.40 L271.85 215.98 L271.86 215.56 L271.86 215.14 L271.86 214.72 L271.86 214.30 L271.87 213.88 L271.87 213.46 L271.87 213.04 L271.88 212.62 L271.88 212.20 L271.88 211.78 L271.89 211.36 L271.89 210.94 L271.90 210.52 L271.90 210.10 L271.90 209.68 L271.91 209.26 L271.91 208.84 L271.92 208.42 L271.92 208.00 L271.93 207.58 L271.93 207.16 L271.94 206.74 L271.95 206.32 L271.95 205.90 L271.96 205.48 L271.97 205.06 L271.97 204.64 L271.98 204.22 L271.99 203.80 L272.00 203.38 L272.01 202.96 L272.02 202.54 L272.03 202.12 L272.04 201.70 L272.05 201.28 L272.06 200.86 L272.07 200.44 L272.08 200.02 L272.09 199.60 L272.10 199.18 L272.11 198.76 L272.12 198.34 L272.14 197.92 L272.15 197.50 L272.16 197.08 L272.17 196.66 L272.19 196.24 L272.20 195.82 L272.21 195.40 L272.23 194.98 L272.24 194.56 L272.26 194.15 L272.27 193.73 L272.28 193.31 L272.30 192.89 L272.31 192.47 L272.33 192.05 L272.34 191.63 L272.36 191.21 L272.37 190.79 L272.39 190.37 L272.41 189.95 L272.42 189.53 L272.44 189.11 L272.45 188.69 L272.47 188.27 L272.49 187.85 L272.50 187.43 L272.52 187.01 L272.54 186.59 L272.55 186.17 L272.57 185.75 L272.59 185.33 L272.60 184.91 L272.62 184.49 L272.64 184.07 L272.66 183.66 L272.68 183.24 L272.70 182.82 L272.72 182.40 L272.74 181.98 L272.76 181.56 L272.78 181.14 L272.80 180.72 L272.83 180.30 L272.85 179.88 L272.88 179.46 L272.90 179.04 L272.93 178.62 L272.95 178.20 L272.98 177.78 L273.01 177.36 L273.04 176.94 L273.07 176.52 L273.10 176.10 L273.13 175.68 L273.16 175.26 L273.19 174.85 L273.22 174.43 L273.25 174.01 L273.29 173.59 L273.32 173.17 L273.35 172.75 L273.39 172.33 L273.43 171.92 L273.46 171.50 L273.50 171.08 L273.54 170.66 L273.58 170.25 L273.62 169.83 L273.66 169.41 L273.70 168.99 L273.75 168.58 L273.79 168.16 L273.84 167.74 L273.89 167.32 L273.95 166.90 L274.00 166.49 L274.06 166.07 L274.12 165.65 L274.18 165.23 L274.24 164.82 L274.31 164.40 L274.37 163.99 L274.44 163.57 L274.51 163.16 L274.58 162.74 L274.65 162.33 L274.73 161.92 L274.81 161.51 L274.88 161.10 L274.96 160.69 L275.04 160.28 L275.13 159.87 L275.22 159.46 L275.31 159.05 L275.41 158.64 L275.51 158.23 L275.62 157.82 L275.72 157.42 L275.83 157.01 L275.95 156.60 L276.07 156.19 L276.19 155.79 L276.31 155.38 L276.44 154.98 L276.57 154.57 L276.70 154.17 L276.83 153.77 L276.97 153.37 L277.11 152.97 L277.25 152.58 L277.40 152.18 L277.54 151.79 L277.69 151.40 L277.84 151.01 L277.99 150.62 L278.14 150.24 L278.30 149.86 L278.46 149.47 L278.62 149.09 L278.79 148.71 L278.97 148.33 L279.15 147.95 L279.33 147.57 L279.52 147.19 L279.71 146.81 L279.91 146.43 L280.11 146.06 L280.31 145.68 L280.52 145.31 L280.73 144.94 L280.94 144.57 L281.16 144.20 L281.38 143.84 L281.60 143.48 L281.83 143.12 L282.05 142.76 L282.28 142.41 L282.52 142.06 L282.75 141.71 L282.99 141.37 L283.23 141.03 L283.47 140.69 L283.71 140.35 L283.96 140.03 L284.21 139.70 L284.46 139.38 L284.72 139.06 L284.99 138.74 L285.26 138.43 L285.54 138.12 L285.83 137.81 L286.11 137.50 L286.40 137.20 L286.70 136.90 L287.00 136.60 L287.30 136.30 L287.60 136.01 L287.91 135.71 L288.22 135.42 L288.53 135.13 L288.84 134.84 L289.15 134.55 L289.47 134.26 L289.78 133.98 L290.09 133.69 L290.41 133.41 L290.72 133.12 L291.03 132.84 L291.34 132.56 L291.65 132.27 L291.96 131.99 L292.27 131.71 L292.59 131.44 L292.91 131.16 L293.22 130.89 L293.54 130.62 L293.87 130.34 L294.19 130.08 L294.51 129.81 L294.84 129.54 L295.16 129.27 L295.49 129.01 L295.82 128.75 L296.14 128.48 L296.47 128.23 L296.81 127.97 L297.14 127.71 L297.48 127.46 L297.81 127.21 L298.15 126.96 L298.49 126.71 L298.83 126.46 L299.16 126.21 L299.50 125.95 L299.83 125.69 L300.16 125.43 L300.48 125.17 L300.80 124.90 L301.12 124.63 L301.45 124.36 L301.77 124.09 L302.10 123.82 L302.42 123.56 L302.76 123.31 L303.09 123.05 L303.42 122.79 L303.76 122.54 L304.09 122.29 L304.43 122.04 L304.77 121.79 L305.11 121.54 L305.45 121.30 L305.79 121.05 L306.13 120.81 L306.47 120.56 L306.82 120.32 L307.16 120.08 L307.51 119.84 L307.85 119.60 L308.20 119.37 L308.55 119.13 L308.90 118.90 L309.25 118.66 L309.60 118.43 L309.95 118.20 L310.30 117.97 L310.80 117.67 L311.30 117.37 L311.80 117.07 L312.30 116.76 L312.80 116.46 L313.30 116.15 L313.80 115.85 L314.30 115.54 L314.80 115.23 L315.30 114.93 L315.80 114.62 L316.30 114.32 L316.80 114.02 L317.30 113.72 L317.80 113.43 L318.30 113.13 L318.80 112.84 L319.30 112.55 L319.80 112.27 L320.30 111.98 L320.80 111.69 L321.30 111.41 L321.80 111.13 L322.30 110.85 L322.80 110.57 L323.30 110.30 L323.80 110.02 L324.30 109.75 L324.80 109.48 L325.30 109.21 L325.80 108.94 L326.30 108.68 L326.80 108.42 L327.30 108.16 L327.80 107.90 L328.30 107.64 L328.80 107.39 L329.30 107.13 L329.80 106.87 L330.30 106.62 L330.80 106.37 L331.30 106.11 L331.80 105.86 L332.30 105.61 L332.80 105.36 L333.30 105.12 L333.80 104.87 L334.30 104.63 L334.80 104.38 L335.30 104.14 L335.80 103.91 L336.30 103.67 L336.80 103.43 L337.30 103.20 L337.80 102.97 L338.30 102.73 L338.80 102.50 L339.30 102.27 L339.80 102.04 L340.30 101.80 L340.80 101.56 L341.30 101.32 L341.80 101.08 L342.30 100.84 L342.80 100.61 L343.30 100.37 L343.80 100.13 L344.30 99.90 L344.80 99.66 L345.30 99.43 L345.80 99.19 L346.30 98.96 L346.80 98.72 L347.30 98.49 L347.80 98.25 L348.30 98.02 L348.80 97.79 L349.30 97.55 L349.80 97.32 L350.30 97.09 L350.80 96.86 L351.30 96.62 L351.80 96.39 L352.30 96.16 L352.80 95.93 L353.30 95.69 L353.80 95.46 L354.30 95.23 L354.80 95.00 L355.30 94.77 L355.80 94.54 L356.30 94.31 L356.80 94.08 L357.30 93.85 L357.80 93.62 L358.30 93.39 L358.80 93.16 L359.30 92.93 L359.80 92.70 L360.30 92.47 L360.80 92.24 L361.30 92.01 L361.80 91.78 L362.30 91.55 L362.80 91.32 L363.30 91.09 L363.80 90.86 L364.30 90.63 L364.80 90.41 L365.30 90.18 L365.80 89.95 L366.30 89.72 L366.80 89.49 L367.30 89.26 L367.80 89.03 L368.30 88.80 L368.80 88.58 L369.30 88.35 L369.80 88.12 L370.30 87.89 L370.80 87.66 L371.30 87.43 L371.80 87.20 L372.30 86.97 L372.80 86.74 L373.30 86.51 L373.80 86.28 L374.30 86.05 L374.80 85.82 L375.30 85.59 L375.80 85.36 L376.30 85.13 L376.80 84.90 L377.30 84.67 L377.80 84.44 L378.30 84.21 L378.80 83.97 L379.30 83.74 L379.80 83.51 L380.30 83.28 L380.80 83.05 L381.30 82.82 L381.80 82.59 L382.30 82.36 L382.80 82.12 L383.30 81.89 L383.80 81.66 L384.30 81.43 L384.80 81.20 L385.30 80.97 L385.80 80.74 L386.30 80.51 L386.80 80.28 L387.30 80.04 L387.80 79.81 L388.30 79.58 L388.80 79.35 L389.30 79.12 L389.80 78.89 L390.30 78.66 L390.80 78.44 L391.30 78.21 L391.80 77.98 L392.30 77.75 L392.80 77.52 L393.30 77.29 L393.80 77.06 L394.30 76.83 L394.80 76.60 L395.30 76.37 L395.80 76.14 L396.30 75.92 L396.80 75.69 L397.30 75.46 L397.80 75.23 L398.30 75.00 L398.80 74.77 L399.30 74.54 L399.80 74.32 L400.30 74.09 L400.80 73.86 L401.30 73.63 L401.80 73.40 L402.30 73.17 L402.80 72.95 L403.30 72.72 L403.80 72.49 L404.30 72.26 L404.80 72.03 L405.30 71.81 L405.80 71.58 L406.30 71.35 L406.80 71.12 L407.30 70.90 L407.80 70.67 L408.30 70.44 L408.80 70.21 L409.30 69.99 L409.80 69.76 L410.30 69.53 L410.80 69.30 L411.30 69.08 L411.80 68.85 L412.30 68.62 L412.80 68.40 L413.30 68.17 L413.80 67.94 L414.30 67.71 L414.80 67.49 L415.30 67.26 L415.80 67.03 L416.30 66.81 L416.80 66.58 L417.30 66.36 L417.80 66.13 L418.30 65.90 L418.80 65.68 L419.30 65.45 L419.80 65.23 L420.30 65.00 L420.80 64.78 L421.30 64.55 L421.80 64.33 L422.30 64.10 L422.80 63.88 L423.30 63.65 L423.80 63.43 L424.30 63.20 L424.80 62.98 L425.30 62.76 L425.80 62.53 L426.30 62.31 L426.80 62.09 L427.30 61.86 L427.80 61.64 L428.30 61.42 L428.80 61.20 L429.30 60.98 L429.80 60.75 L430.30 60.53 L430.80 60.31 L431.30 60.09 L431.80 59.87 L432.30 59.65 L432.80 59.44 L433.30 59.22 L433.80 59.00 L434.30 58.78 L434.80 58.57 L435.30 58.35 L435.80 58.13 L436.30 57.92 L436.80 57.70 L437.30 57.49 L437.80 57.28 L438.30 57.06 L438.80 56.85 L439.30 56.64 L439.80 56.43 L440.30 56.22 L440.80 56.01 L441.30 55.81 L441.80 55.60 L442.30 55.39 L442.80 55.19 L443.30 54.98 L443.80 54.78 L444.30 54.58 L444.80 54.38 L445.30 54.18 L445.80 53.98 L446.30 53.78 L446.80 53.59 L447.30 53.39 L447.80 53.20 L448.30 53.01 L448.80 52.82 L449.30 52.63 L449.80 52.44 L450.30 52.26 L450.80 52.07 L451.30 51.89 L451.80 51.71 L452.30 51.53 L452.80 51.35 L453.30 51.18 L453.80 51.01 L454.30 50.83 L454.80 50.66 L455.30 50.50 L455.80 50.33 L456.30 50.17 L456.80 50.01 L457.30 49.85 L457.80 49.69 L458.30 49.53 L458.80 49.38 L459.30 49.23 L459.80 49.08 L460.30 48.93 L460.80 48.79 L461.30 48.65 L461.80 48.51 L462.30 48.37 L462.80 48.24 L463.30 48.10 L463.80 47.97 L464.30 47.84 L464.80 47.72 L465.30 47.60 L465.80 47.47 L466.30 47.36 L466.80 47.24 L467.30 47.12 L467.80 47.01 L468.30 46.90" stroke="#66ff00" stroke-width="1.5"/>
<path d="M57.50 212.60 L58.30 212.26 L59.10 211.91 L59.90 211.57 L60.70 211.22 L61.50 210.88 L62.30 210.53 L63.10 210.18 L63.90 209.84 L64.70 209.49 L65.50 209.15 L66.29 208.80 L67.09 208.45 L67.89 208.10 L68.69 207.76 L69.49 207.41 L70.29 207.06 L71.09 206.71 L71.88 206.36 L72.68 206.01 L73.48 205.66 L74.28 205.31 L75.07 204.96 L75.87 204.61 L76.67 204.26 L77.47 203.91 L78.26 203.56 L79.06 203.21 L79.86 202.86 L80.65 202.51 L81.45 202.16 L82.25 201.80 L83.04 201.45 L83.84 201.10 L84.64 200.75 L85.43 200.39 L86.23 200.04 L87.03 199.69 L87.82 199.33 L88.62 198.98 L89.41 198.63 L90.21 198.27 L91.00 197.92 L91.80 197.56 L92.60 197.21 L93.39 196.86 L94.19 196.50 L94.98 196.15 L95.78 195.79 L96.57 195.43 L97.37 195.08 L98.16 194.72 L98.96 194.37 L99.75 194.01 L100.55 193.65 L101.34 193.30 L102.13 192.94 L102.93 192.58 L103.72 192.22 L104.51 191.86 L105.31 191.50 L106.10 191.14 L106.89 190.77 L107.68 190.41 L108.47 190.05 L109.27 189.68 L110.06 189.32 L110.85 188.96 L111.64 188.60 L112.43 188.23 L113.22 187.87 L114.02 187.51 L114.81 187.15 L115.60 186.79 L116.39 186.43 L117.19 186.07 L117.98 185.71 L118.77 185.35 L119.57 184.99 L120.36 184.64 L121.16 184.28 L121.96 183.93 L122.75 183.57 L123.55 183.22 L124.34 182.87 L125.14 182.52 L125.94 182.17 L126.73 181.81 L127.53 181.46 L128.33 181.11 L129.13 180.76 L129.92 180.41 L130.72 180.07 L131.52 179.72 L132.32 179.37 L133.12 179.02 L133.91 178.67 L134.71 178.32 L135.51 177.97 L136.31 177.62 L137.11 177.27 L137.90 176.92 L138.70 176.57 L139.50 176.22 L140.29 175.87 L141.09 175.52 L141.89 175.17 L142.69 174.82 L143.48 174.46 L144.28 174.11 L145.08 173.76 L145.87 173.41 L146.67 173.06 L147.47 172.70 L148.26 172.35 L149.06 172.00 L149.85 171.65 L150.65 171.29 L151.45 170.94 L152.25 170.59 L153.04 170.24 L153.84 169.89 L154.64 169.54 L155.43 169.19 L156.23 168.84 L157.03 168.49 L157.83 168.14 L158.63 167.80 L159.43 167.45 L160.23 167.10 L161.02 166.76 L161.82 166.41 L162.62 166.07 L163.42 165.72 L164.22 165.38 L165.03 165.04 L165.83 164.69 L166.63 164.35 L167.43 164.01 L168.23 163.67 L169.03 163.33 L169.83 162.99 L170.63 162.65 L171.44 162.31 L172.24 161.97 L173.04 161.63 L173.84 161.29 L174.64 160.95 L175.45 160.61 L176.25 160.27 L177.05 159.93 L177.85 159.59 L178.65 159.25 L179.46 158.91 L180.26 158.57 L181.06 158.24 L181.86 157.90 L182.67 157.56 L183.47 157.23 L184.28 156.89 L185.08 156.56 L185.89 156.23 L186.69 155.90 L187.50 155.57 L188.31 155.24 L189.11 154.91 L189.92 154.58 L190.73 154.26 L191.54 153.93 L192.34 153.60 L193.15 153.28 L193.96 152.96 L194.77 152.64 L195.59 152.33 L196.40 152.02 L197.22 151.72 L198.04 151.43 L198.86 151.14 L199.68 150.86 L200.51 150.58 L201.33 150.31 L202.16 150.05 L202.99 149.78 L203.83 149.52 L204.66 149.27 L205.49 149.01 L206.33 148.76 L207.16 148.51 L207.99 148.25 L208.83 148.00 L209.66 147.75 L210.50 147.50 L211.33 147.25 L212.17 147.00 L213.00 146.76 L213.84 146.52 L214.68 146.29 L215.52 146.06 L216.36 145.82 L217.20 145.59 L218.04 145.36 L218.88 145.15 L219.73 144.96 L220.58 144.79 L221.44 144.63 L222.30 144.48 L223.16 144.35 L224.02 144.21 L224.88 144.09 L225.75 143.96 L226.61 143.83 L227.47 143.70 L228.33 143.57 L229.19 143.42 L230.05 143.26 L230.91 143.11 L231.77 142.97 L232.63 142.84 L233.50 142.72 L234.36 142.64 L235.23 142.59 L236.09 142.55 L236.96 142.51 L237.84 142.48 L238.71 142.45 L239.58 142.42 L240.45 142.41 L241.32 142.40 L242.19 142.41 L243.06 142.44 L243.94 142.50 L244.81 142.59 L245.68 142.69 L246.55 142.81 L247.40 142.94 L248.26 143.08 L249.10 143.24 L249.95 143.46 L250.79 143.72 L251.62 144.02 L252.43 144.36 L253.22 144.71 L253.97 145.12 L254.69 145.60 L255.40 146.13 L256.10 146.66 L256.81 147.17 L257.53 147.67 L258.23 148.19 L258.93 148.72 L259.60 149.27 L260.24 149.84 L260.85 150.46 L261.42 151.12 L261.98 151.79 L262.55 152.46 L263.13 153.11 L263.72 153.76 L264.30 154.42 L264.84 155.09 L265.33 155.80 L265.79 156.54 L266.21 157.30 L266.61 158.08 L266.99 158.87 L267.35 159.66 L267.71 160.46 L268.04 161.28 L268.34 162.10 L268.58 162.92 L268.78 163.76 L268.97 164.61 L269.14 165.46 L269.30 166.32 L269.44 167.19 L269.57 168.06 L269.68 168.92 L269.78 169.79 L269.87 170.65 L269.95 171.52 L270.03 172.38 L270.10 173.25 L270.17 174.12 L270.24 174.98 L270.31 175.85 L270.37 176.72 L270.43 177.59 L270.48 178.46 L270.53 179.34 L270.58 180.21 L270.63 181.08 L270.67 181.95 L270.71 182.82 L270.75 183.69 L270.78 184.56 L270.82 185.43 L270.85 186.30 L270.88 187.17 L270.91 188.04 L270.94 188.91 L270.96 189.78 L270.99 190.65 L271.02 191.52 L271.04 192.39 L271.07 193.26 L271.09 194.13 L271.12 195.00 L271.14 195.87 L271.16 196.75 L271.18 197.62 L271.20 198.49 L271.22 199.36 L271.24 200.23 L271.26 201.10 L271.28 201.97 L271.30 202.84 L271.31 203.71 L271.33 204.58 L271.34 205.45 L271.35 206.33 L271.37 207.20 L271.38 208.07 L271.39 208.94 L271.40 209.81 L271.41 210.68 L271.42 211.55 L271.43 212.42 L271.43 213.29 L271.44 214.16 L271.45 215.03 L271.46 215.91 L271.47 216.78 L271.48 217.65 L271.49 218.52 L271.49 219.39 L271.50 220.26 L271.51 221.13 L271.52 222.00 L271.52 222.87 L271.53 223.74 L271.54 224.61 L271.54 225.49 L271.55 226.36 L271.56 227.23 L271.56 228.10 L271.57 228.97 L271.57 229.84 L271.58 230.71 L271.58 231.58 L271.58 232.45 L271.59 233.32 L271.59 234.19 L271.59 235.07 L271.60 235.94 L271.60 236.81 L271.60 237.68 L271.60 238.55 L271.60 239.42 L271.60 240.29 L271.60 241.16 L271.60 242.03 L271.60 242.90 L271.60 243.78 L271.60 244.65 L271.60 245.52 L271.60 246.39 L271.60 247.26 L271.60 248.13 L271.60 249.00 L271.60 249.87 L271.60 250.74 L271.60 251.61 L271.60 252.48 L271.60 253.36 L271.60 254.23 L271.60 255.10 L271.60 255.97 L271.60 256.84 L271.60 257.71 L271.60 258.58 L271.60 259.45 L271.60 260.32 L271.60 261.19 L271.60 262.06 L271.60 262.94 L271.60 263.81 L271.60 264.68 L271.60 265.55 L271.60 266.42 L271.60 267.29 L271.60 268.16 L271.60 269.03 L271.60 269.90 L271.60 270.77 L271.60 271.65 L271.60 272.52 L271.60 273.39 L271.60 274.26 L271.60 275.13 L271.60 276.00" stroke="#66ff00" stroke-width="1.5" stroke-dasharray="4.1 1.7"/>
<path d="M270.90 230.00 L270.90 229.49 L270.90 228.98 L270.90 228.47 L270.90 227.96 L270.90 227.45 L270.90 226.94 L270.90 226.43 L270.91 225.92 L270.91 225.41 L270.91 224.90 L270.91 224.39 L270.91 223.88 L270.91 223.37 L270.92 222.86 L270.92 222.35 L270.92 221.84 L270.92 221.33 L270.93 220.82 L270.93 220.31 L270.93 219.79 L270.93 219.28 L270.94 218.77 L270.94 218.26 L270.94 217.75 L270.95 217.24 L270.95 216.73 L270.95 216.22 L270.96 215.71 L270.96 215.20 L270.96 214.69 L270.97 214.18 L270.97 213.67 L270.98 213.16 L270.98 212.65 L270.98 212.14 L270.99 211.63 L270.99 211.12 L271.00 210.61 L271.00 210.10 L271.00 209.59 L271.01 209.08 L271.01 208.57 L271.02 208.06 L271.02 207.55 L271.03 207.04 L271.03 206.53 L271.04 206.02 L271.05 205.51 L271.05 205.00 L271.06 204.49 L271.07 203.98 L271.07 203.47 L271.08 202.96 L271.09 202.45 L271.10 201.94 L271.10 201.43 L271.11 200.92 L271.12 200.41 L271.13 199.90 L271.14 199.38 L271.15 198.87 L271.16 198.36 L271.17 197.85 L271.18 197.34 L271.19 196.83 L271.20 196.32 L271.21 195.81 L271.22 195.30 L271.23 194.79 L271.25 194.28 L271.26 193.77 L271.27 193.26 L271.28 192.75 L271.29 192.24 L271.31 191.73 L271.32 191.22 L271.33 190.71 L271.35 190.20 L271.36 189.69 L271.38 189.18 L271.39 188.67 L271.40 188.16 L271.42 187.65 L271.43 187.14 L271.45 186.63 L271.47 186.12 L271.48 185.61 L271.50 185.10 L271.51 184.59 L271.53 184.08 L271.55 183.57 L271.57 183.06 L271.59 182.56 L271.61 182.05 L271.64 181.54 L271.66 181.03 L271.69 180.52 L271.71 180.01 L271.74 179.50 L271.77 178.99 L271.80 178.48 L271.83 177.97 L271.86 177.46 L271.90 176.95 L271.93 176.44 L271.96 175.93 L272.00 175.42 L272.04 174.91 L272.07 174.40 L272.11 173.89 L272.15 173.38 L272.19 172.87 L272.23 172.36 L272.27 171.86 L272.31 171.35 L272.35 170.84 L272.40 170.33 L272.44 169.82 L272.48 169.31 L272.53 168.81 L272.57 168.30 L272.62 167.79 L272.67 167.29 L272.72 166.78 L272.77 166.27 L272.83 165.76 L272.89 165.26 L272.95 164.75 L273.02 164.24 L273.08 163.74 L273.15 163.23 L273.22 162.72 L273.30 162.22 L273.37 161.71 L273.45 161.21 L273.53 160.70 L273.61 160.20 L273.69 159.70 L273.77 159.19 L273.85 158.69 L273.93 158.19 L274.02 157.68 L274.11 157.18 L274.19 156.67 L274.29 156.16 L274.38 155.66 L274.48 155.15 L274.58 154.65 L274.68 154.15 L274.79 153.64 L274.90 153.14 L275.01 152.65 L275.13 152.15 L275.26 151.66 L275.39 151.17 L275.53 150.69 L275.67 150.21 L275.82 149.73 L275.99 149.25 L276.18 148.78 L276.38 148.30 L276.59 147.83 L276.81 147.37 L277.05 146.91 L277.29 146.45 L277.54 146.00 L277.79 145.56 L278.04 145.13 L278.31 144.70 L278.59 144.27 L278.88 143.85 L279.18 143.44 L279.49 143.03 L279.81 142.62 L280.14 142.22 L280.47 141.83 L280.81 141.45 L281.15 141.07 L281.49 140.70 L281.84 140.33 L282.20 139.95 L282.56 139.57 L282.93 139.20 L283.31 138.83 L283.70 138.48 L284.09 138.15 L284.49 137.83 L284.90 137.55 L285.32 137.30 L285.75 137.07 L286.20 136.84 L286.66 136.61 L287.13 136.39 L287.62 136.18 L288.11 135.98 L288.61 135.80 L289.11 135.65 L289.61 135.53 L290.11 135.45 L290.61 135.40 L291.10 135.41 L291.60 135.45 L292.11 135.53 L292.61 135.64 L293.12 135.77 L293.63 135.92 L294.13 136.09 L294.62 136.26 L295.09 136.44 L295.55 136.62 L295.99 136.81 L296.44 137.04 L296.89 137.30 L297.32 137.58 L297.75 137.89 L298.18 138.21 L298.59 138.54 L298.98 138.89 L299.36 139.24 L299.73 139.60 L300.07 139.96 L300.40 140.33 L300.71 140.71 L301.01 141.11 L301.30 141.53 L301.59 141.97 L301.86 142.41 L302.12 142.86 L302.37 143.32 L302.62 143.77 L302.86 144.23 L303.09 144.68 L303.32 145.13 L303.54 145.59 L303.75 146.05 L303.96 146.52 L304.16 146.99 L304.36 147.46 L304.56 147.94 L304.75 148.41 L304.93 148.89 L305.11 149.37 L305.29 149.84 L305.47 150.32 L305.64 150.80 L305.81 151.28 L305.97 151.77 L306.14 152.25 L306.30 152.73 L306.45 153.22 L306.61 153.71 L306.76 154.20 L306.91 154.68 L307.06 155.17 L307.20 155.66 L307.34 156.15 L307.48 156.64 L307.61 157.14 L307.74 157.63 L307.86 158.12 L307.98 158.62 L308.10 159.12 L308.22 159.61 L308.35 160.11 L308.47 160.61 L308.59 161.10 L308.72 161.59 L308.85 162.09 L308.99 162.58 L309.14 163.06 L309.29 163.55 L309.45 164.04 L309.61 164.52 L309.78 165.00 L309.94 165.49 L310.11 165.97 L310.28 166.45 L310.45 166.93 L310.62 167.41 L310.79 167.90 L310.95 168.38 L311.10 168.87 L311.26 169.35 L311.40 169.84 L311.54 170.33 L311.68 170.82 L311.81 171.32 L311.94 171.81 L312.07 172.30 L312.19 172.80 L312.32 173.29 L312.46 173.78 L312.59 174.28 L312.73 174.77 L312.88 175.26 L313.03 175.74 L313.18 176.23 L313.34 176.72 L313.50 177.20 L313.63 176.87 L313.75 176.53 L313.88 176.19 L314.00 175.86 L314.12 175.52 L314.24 175.18 L314.35 174.84 L314.47 174.51 L314.58 174.17 L314.69 173.83 L314.80 173.48 L314.91 173.14 L315.02 172.80 L315.13 172.46 L315.23 172.12 L315.34 171.78 L315.44 171.43 L315.54 171.09 L315.65 170.75 L315.75 170.40 L315.85 170.06 L315.94 169.71 L316.04 169.37 L316.13 169.03 L316.23 168.68 L316.32 168.33 L316.41 167.99 L316.49 167.64 L316.58 167.29 L316.66 166.95 L316.74 166.60 L316.82 166.25 L316.89 165.90 L316.97 165.55 L317.05 165.20 L317.12 164.85 L317.20 164.50 L317.27 164.15 L317.35 163.80 L317.43 163.45 L317.50 163.10 L317.58 162.75 L317.66 162.40 L317.74 162.05 L317.82 161.70 L317.91 161.36 L318.00 161.01 L318.09 160.66 L318.18 160.32 L318.27 159.97 L318.36 159.62 L318.45 159.28 L318.54 158.93 L318.63 158.58 L318.73 158.23 L318.82 157.89 L318.92 157.54 L319.01 157.20 L319.11 156.85 L319.22 156.51 L319.32 156.17 L319.42 155.82 L319.53 155.48 L319.64 155.14 L319.75 154.80 L319.87 154.47 L319.98 154.13 L320.10 153.79 L320.23 153.46 L320.35 153.12 L320.48 152.79 L320.62 152.46 L320.76 152.12 L320.90 151.79 L321.05 151.46 L321.20 151.14 L321.36 150.82 L321.53 150.50 L321.69 150.19 L321.87 149.88 L322.05 149.57 L322.24 149.25 L322.43 148.94 L322.64 148.63 L322.85 148.33 L323.08 148.04 L323.31 147.77 L323.55 147.52 L323.80 147.30 L324.06 147.10 L324.34 146.90 L324.63 146.71 L324.93 146.53 L325.25 146.36 L325.58 146.20 L325.92 146.05 L326.27 145.92 L326.63 145.80 L327.00 145.70 L327.25 145.71 L327.50 145.75 L327.75 145.81 L328.00 145.89 L328.26 146.00 L328.51 146.13 L328.76 146.29 L329.01 146.47 L329.26 146.67 L329.51 146.90 L329.76 147.16 L330.01 147.43 L330.26 147.73 L330.52 148.06 L330.77 148.41 L331.02 148.79 L331.27 149.19 L331.52 149.61 L331.77 150.06 L332.02 150.53 L332.27 151.02 L332.52 151.54 L332.78 152.08 L333.03 152.64 L333.28 153.22 L333.53 153.81 L333.78 154.43 L334.03 155.05 L334.28 155.69 L334.53 156.34 L334.78 156.99 L335.04 157.65 L335.29 158.30 L335.54 158.94 L335.79 159.56 L336.04 160.16 L336.29 160.73 L336.54 161.26 L336.79 161.74 L337.04 162.16 L337.30 162.53 L337.55 162.82 L337.80 163.03 L338.05 163.16 L338.30 163.20 L338.55 163.15 L338.81 163.00 L339.06 162.75 L339.32 162.41 L339.57 162.00 L339.82 161.51 L340.08 160.97 L340.33 160.37 L340.59 159.74 L340.84 159.09 L341.09 158.41 L341.35 157.73 L341.60 157.05 L341.86 156.37 L342.11 155.70 L342.36 155.04 L342.62 154.41 L342.87 153.80 L343.13 153.21 L343.38 152.65 L343.64 152.11 L343.89 151.61 L344.14 151.13 L344.40 150.69 L344.65 150.28 L344.91 149.90 L345.16 149.55 L345.41 149.24 L345.67 148.96 L345.92 148.71 L346.18 148.50 L346.43 148.31 L346.68 148.16 L346.94 148.05 L347.19 147.97 L347.45 147.92 L347.70 147.90 L347.95 147.92 L348.21 147.97 L348.46 148.06 L348.72 148.19 L348.97 148.35 L349.23 148.54 L349.48 148.77 L349.74 149.04 L349.99 149.33 L350.25 149.67 L350.50 150.03 L350.75 150.43 L351.01 150.85 L351.26 151.31 L351.52 151.79 L351.77 152.29 L352.03 152.82 L352.28 153.37 L352.54 153.93 L352.79 154.51 L353.05 155.09 L353.30 155.66 L353.55 156.23 L353.81 156.79 L354.06 157.32 L354.32 157.82 L354.57 158.28 L354.83 158.69 L355.08 159.04 L355.34 159.32 L355.59 159.53 L355.85 159.66 L356.10 159.70 L356.35 159.65 L356.61 159.52 L356.86 159.29 L357.11 158.99 L357.37 158.61 L357.62 158.18 L357.88 157.69 L358.13 157.17 L358.38 156.62 L358.64 156.05 L358.89 155.48 L359.14 154.91 L359.40 154.35 L359.65 153.80 L359.90 153.27 L360.16 152.77 L360.41 152.30 L360.66 151.87 L360.92 151.47 L361.17 151.10 L361.43 150.78 L361.68 150.49 L361.93 150.25 L362.19 150.05 L362.44 149.90 L362.69 149.79 L362.95 149.72 L363.20 149.70 L363.46 149.73 L363.72 149.81 L363.97 149.94 L364.23 150.12 L364.49 150.36 L364.75 150.64 L365.01 150.97 L365.27 151.35 L365.52 151.77 L365.78 152.22 L366.04 152.71 L366.30 153.23 L366.56 153.76 L366.82 154.31 L367.07 154.86 L367.33 155.40 L367.59 155.93 L367.85 156.42 L368.11 156.87 L368.37 157.25 L368.62 157.57 L368.88 157.81 L369.14 157.95 L369.40 158.00 L369.66 157.95 L369.92 157.81 L370.18 157.57 L370.44 157.25 L370.70 156.87 L370.95 156.43 L371.21 155.94 L371.47 155.43 L371.73 154.91 L371.99 154.38 L372.25 153.86 L372.51 153.37 L372.77 152.90 L373.03 152.46 L373.29 152.06 L373.55 151.71 L373.80 151.41 L374.06 151.16 L374.32 150.96 L374.58 150.81 L374.84 150.73 L375.10 150.70 L375.35 150.72 L375.61 150.80 L375.86 150.92 L376.12 151.09 L376.37 151.31 L376.63 151.56 L376.88 151.86 L377.14 152.20 L377.39 152.56 L377.65 152.96 L377.90 153.37 L378.15 153.80 L378.41 154.23 L378.66 154.66 L378.92 155.07 L379.17 155.46 L379.43 155.81 L379.68 156.11 L379.94 156.36 L380.19 156.55 L380.45 156.66 L380.70 156.70 L380.96 156.64 L381.22 156.47 L381.48 156.19 L381.74 155.82 L381.99 155.39 L382.25 154.90 L382.51 154.39 L382.77 153.87 L383.03 153.36 L383.29 152.88 L383.55 152.44 L383.81 152.04 L384.06 151.71 L384.32 151.45 L384.58 151.26 L384.84 151.14 L385.10 151.10 L385.36 151.14 L385.62 151.24 L385.88 151.42 L386.14 151.66 L386.39 151.96 L386.65 152.31 L386.91 152.71 L387.17 153.14 L387.43 153.60 L387.69 154.06 L387.95 154.52 L388.21 154.95 L388.46 155.33 L388.72 155.65 L388.98 155.90 L389.24 156.05 L389.50 156.10 L389.76 156.05 L390.01 155.91 L390.27 155.68 L390.52 155.38 L390.78 155.01 L391.03 154.60 L391.29 154.16 L391.54 153.71 L391.80 153.25 L392.06 152.81 L392.31 152.40 L392.57 152.03 L392.82 151.69 L393.08 151.41 L393.33 151.19 L393.59 151.03 L393.84 150.93 L394.10 150.90 L394.36 150.94 L394.61 151.04 L394.87 151.21 L395.13 151.45 L395.39 151.73 L395.64 152.06 L395.90 152.41 L396.16 152.77 L396.41 153.12 L396.67 153.44 L396.93 153.71 L397.19 153.92 L397.44 154.05 L397.70 154.10 L397.95 154.04 L398.20 153.85 L398.45 153.54 L398.70 153.16 L398.95 152.70 L399.20 152.22 L399.45 151.72 L399.70 151.25 L399.95 150.81 L400.20 150.43 L400.45 150.12 L400.70 149.89 L400.95 149.75 L401.20 149.70 L401.46 149.74 L401.72 149.88 L401.98 150.09 L402.23 150.37 L402.49 150.70 L402.75 151.07 L403.01 151.45 L403.27 151.81 L403.52 152.13 L403.78 152.39 L404.04 152.55 L404.30 152.60 L404.56 152.56 L404.83 152.45 L405.09 152.28 L405.36 152.05 L405.62 151.78 L405.89 151.49 L406.15 151.18 L406.41 150.89 L406.68 150.61 L406.94 150.37 L407.21 150.17 L407.47 150.02 L407.74 149.93 L408.00 149.90 L408.25 149.95 L408.50 150.11 L408.75 150.37 L409.00 150.71 L409.25 151.13 L409.50 151.58 L409.75 152.05 L410.00 152.51 L410.25 152.91 L410.50 153.23 L410.75 153.43 L411.00 153.50 L411.26 153.43 L411.53 153.25 L411.79 152.95 L412.05 152.59 L412.32 152.18 L412.58 151.77 L412.85 151.39 L413.11 151.06 L413.37 150.81 L413.64 150.65 L413.90 150.60 L414.15 150.68 L414.40 150.90 L414.65 151.25 L414.90 151.71 L415.15 152.24 L415.40 152.79 L415.65 153.30 L415.90 153.72 L416.15 154.00 L416.40 154.10 L416.65 154.02 L416.90 153.79 L417.15 153.45 L417.40 153.03 L417.65 152.57 L417.90 152.13 L418.15 151.75 L418.40 151.45 L418.65 151.26 L418.90 151.20 L419.15 151.27 L419.40 151.47 L419.65 151.78 L419.90 152.19 L420.15 152.66 L420.40 153.15 L420.65 153.60 L420.90 153.97 L421.15 154.22 L421.40 154.30 L421.65 154.23 L421.90 154.02 L422.15 153.70 L422.40 153.31 L422.65 152.88 L422.90 152.47 L423.15 152.11 L423.40 151.84 L423.65 151.66 L423.90 151.60 L424.15 151.68 L424.40 151.91 L424.65 152.27 L424.90 152.74 L425.15 153.28 L425.40 153.85 L425.65 154.38 L425.90 154.81 L426.15 155.10 L426.40 155.20 L426.66 155.07 L426.92 154.72 L427.19 154.20 L427.45 153.62 L427.71 153.06 L427.98 152.60 L428.24 152.30 L428.50 152.20 L428.75 152.27 L429.00 152.47 L429.25 152.80 L429.50 153.22 L429.75 153.71 L430.00 154.21 L430.25 154.68 L430.50 155.06 L430.75 155.31 L431.00 155.40 L431.26 155.30 L431.52 155.00 L431.79 154.58 L432.05 154.09 L432.31 153.62 L432.58 153.24 L432.84 152.99 L433.10 152.90 L433.36 153.00 L433.62 153.28 L433.89 153.70 L434.15 154.23 L434.41 154.77 L434.68 155.25 L434.94 155.58 L435.20 155.70 L435.46 155.60 L435.73 155.34 L435.99 154.95 L436.25 154.50 L436.51 154.07 L436.77 153.71 L437.04 153.48 L437.30 153.40 L437.56 153.50 L437.82 153.79 L438.09 154.23 L438.35 154.77 L438.61 155.34 L438.88 155.83 L439.14 156.18 L439.40 156.30 L439.66 156.20 L439.91 155.92 L440.17 155.53 L440.43 155.11 L440.69 154.74 L440.94 154.49 L441.20 154.40 L441.45 154.51 L441.70 154.82 L441.95 155.31 L442.20 155.91 L442.45 156.53 L442.70 157.08 L442.95 157.46 L443.20 157.60 L443.46 157.50 L443.71 157.22 L443.97 156.83 L444.23 156.41 L444.49 156.04 L444.74 155.79 L445.00 155.70 L445.26 155.82 L445.52 156.16 L445.79 156.69 L446.05 157.34 L446.31 158.02 L446.58 158.63 L446.84 159.05 L447.10 159.20 L447.38 159.07 L447.67 158.73 L447.95 158.27 L448.23 157.83 L448.52 157.51 L448.80 157.40 L449.06 157.55 L449.32 157.98 L449.59 158.66 L449.85 159.51 L450.11 160.41 L450.38 161.22 L450.64 161.79 L450.90 162.00 L451.16 161.93 L451.42 161.74 L451.69 161.45 L451.95 161.12 L452.21 160.80 L452.48 160.54 L452.74 160.36 L453.00 160.30 L453.27 160.54 L453.54 161.22 L453.81 162.27 L454.09 163.54 L454.36 164.80 L454.63 165.75 L454.90 166.10 L455.13 166.02 L455.37 165.79 L455.60 165.49 L455.83 165.19 L456.07 164.98 L456.30 164.90 L456.56 165.14 L456.82 165.87 L457.09 167.02 L457.35 168.53 L457.61 170.22 L457.88 171.85 L458.14 173.05 L458.40 173.50 L458.60 173.51 L458.80 173.52 L459.00 173.55 L459.20 173.57 L459.40 173.59 L459.60 173.60 L460.01 174.84 L460.32 176.09 L460.51 177.36 L460.68 178.65 L460.83 179.94 L460.96 181.24 L461.06 182.54 L461.16 183.83 L461.24 185.13 L461.32 186.42 L461.40 187.72 L461.48 189.01 L461.54 190.31 L461.60 191.61 L461.65 192.91 L461.68 194.20 L461.70 195.50 L461.71 196.80 L461.72 198.09 L461.73 199.39 L461.73 200.69 L461.74 201.99 L461.75 203.28 L461.75 204.58 L461.76 205.88 L461.77 207.18 L461.77 208.47 L461.77 209.77 L461.78 211.07 L461.78 212.37 L461.79 213.67 L461.79 214.96 L461.79 216.26 L461.79 217.56 L461.80 218.86 L461.80 220.15 L461.80 221.45 L461.80 222.75 L461.80 224.05 L461.80 225.35 L461.80 226.64 L461.80 227.94 L461.80 229.24 L461.80 230.54 L461.80 231.83 L461.80 233.13 L461.80 234.43 L461.80 235.73 L461.80 237.02 L461.80 238.32 L461.80 239.62 L461.80 240.92 L461.80 242.21 L461.80 243.51 L461.80 244.81 L461.80 246.11 L461.80 247.40 L461.80 248.70 L461.80 250.00" stroke="#2350ff" stroke-width="1.5"/>
<path d="M57.50 208.50 L58.23 208.19 L58.96 207.88 L59.69 207.57 L60.42 207.27 L61.15 206.96 L61.88 206.65 L62.61 206.34 L63.34 206.03 L64.07 205.72 L64.80 205.41 L65.53 205.10 L66.26 204.78 L66.99 204.47 L67.72 204.16 L68.45 203.85 L69.18 203.54 L69.90 203.23 L70.63 202.91 L71.36 202.60 L72.09 202.29 L72.82 201.97 L73.55 201.66 L74.27 201.35 L75.00 201.03 L75.73 200.72 L76.46 200.40 L77.19 200.09 L77.91 199.77 L78.64 199.46 L79.37 199.14 L80.10 198.83 L80.82 198.51 L81.55 198.20 L82.28 197.88 L83.00 197.56 L83.73 197.25 L84.46 196.93 L85.18 196.61 L85.91 196.29 L86.64 195.98 L87.36 195.66 L88.09 195.34 L88.82 195.02 L89.54 194.71 L90.27 194.39 L91.00 194.07 L91.72 193.75 L92.45 193.43 L93.17 193.11 L93.90 192.79 L94.62 192.47 L95.35 192.15 L96.07 191.83 L96.80 191.51 L97.53 191.19 L98.25 190.87 L98.98 190.55 L99.70 190.23 L100.43 189.91 L101.15 189.59 L101.87 189.27 L102.60 188.94 L103.32 188.62 L104.05 188.30 L104.77 187.97 L105.49 187.65 L106.22 187.32 L106.94 187.00 L107.66 186.67 L108.38 186.34 L109.11 186.02 L109.83 185.69 L110.55 185.36 L111.27 185.04 L112.00 184.71 L112.72 184.38 L113.44 184.06 L114.16 183.73 L114.89 183.40 L115.61 183.08 L116.33 182.75 L117.05 182.42 L117.78 182.10 L118.50 181.77 L119.22 181.45 L119.95 181.12 L120.67 180.80 L121.39 180.48 L122.12 180.15 L122.84 179.83 L123.56 179.51 L124.29 179.18 L125.01 178.86 L125.74 178.53 L126.46 178.21 L127.18 177.89 L127.91 177.56 L128.63 177.24 L129.36 176.92 L130.08 176.60 L130.80 176.27 L131.53 175.95 L132.25 175.63 L132.98 175.31 L133.70 174.98 L134.43 174.66 L135.15 174.34 L135.88 174.02 L136.60 173.70 L137.33 173.38 L138.05 173.06 L138.78 172.74 L139.50 172.42 L140.23 172.10 L140.95 171.78 L141.68 171.46 L142.41 171.14 L143.13 170.82 L143.86 170.50 L144.58 170.19 L145.31 169.87 L146.04 169.55 L146.76 169.23 L147.49 168.91 L148.22 168.60 L148.94 168.28 L149.67 167.96 L150.40 167.65 L151.12 167.33 L151.85 167.01 L152.58 166.70 L153.30 166.38 L154.03 166.07 L154.76 165.75 L155.49 165.44 L156.22 165.12 L156.94 164.81 L157.67 164.50 L158.40 164.18 L159.13 163.87 L159.86 163.56 L160.59 163.25 L161.32 162.94 L162.05 162.63 L162.78 162.32 L163.51 162.01 L164.24 161.71 L164.97 161.40 L165.70 161.09 L166.43 160.79 L167.17 160.48 L167.90 160.18 L168.63 159.87 L169.36 159.57 L170.09 159.26 L170.82 158.96 L171.56 158.65 L172.29 158.34 L173.02 158.04 L173.75 157.73 L174.48 157.42 L175.21 157.11 L175.94 156.80 L176.67 156.49 L177.40 156.17 L178.12 155.86 L178.85 155.55 L179.58 155.23 L180.31 154.91 L181.03 154.60 L181.76 154.29 L182.49 153.97 L183.22 153.66 L183.95 153.35 L184.68 153.04 L185.41 152.73 L186.14 152.43 L186.87 152.13 L187.61 151.83 L188.34 151.52 L189.07 151.22 L189.81 150.92 L190.54 150.62 L191.28 150.32 L192.01 150.02 L192.75 149.72 L193.49 149.43 L194.22 149.14 L194.96 148.85 L195.70 148.57 L196.45 148.30 L197.19 148.03 L197.94 147.76 L198.69 147.50 L199.44 147.25 L200.19 147.00 L200.94 146.76 L201.70 146.53 L202.46 146.29 L203.22 146.06 L203.98 145.84 L204.74 145.61 L205.50 145.39 L206.26 145.16 L207.02 144.94 L207.78 144.71 L208.54 144.49 L209.30 144.26 L210.06 144.04 L210.83 143.82 L211.59 143.60 L212.35 143.38 L213.11 143.16 L213.87 142.94 L214.63 142.71 L215.39 142.48 L216.14 142.23 L216.89 141.97 L217.65 141.71 L218.40 141.46 L219.16 141.23 L219.92 141.02 L220.69 140.84 L221.46 140.66 L222.23 140.49 L223.01 140.34 L223.79 140.19 L224.57 140.04 L225.36 139.91 L226.14 139.78 L226.92 139.67 L227.71 139.55 L228.49 139.44 L229.28 139.34 L230.07 139.24 L230.85 139.14 L231.64 139.06 L232.43 138.98 L233.22 138.91 L234.01 138.85 L234.80 138.79 L235.59 138.74 L236.39 138.68 L237.18 138.63 L237.97 138.58 L238.76 138.55 L239.55 138.52 L240.35 138.50 L241.14 138.50 L241.93 138.52 L242.73 138.55 L243.52 138.60 L244.31 138.66 L245.11 138.73 L245.90 138.81 L246.68 138.89 L247.47 138.98 L248.25 139.09 L249.03 139.23 L249.82 139.40 L250.60 139.59 L251.38 139.82 L252.14 140.06 L252.89 140.32 L253.61 140.59 L254.32 140.88 L255.02 141.22 L255.71 141.60 L256.39 142.02 L257.06 142.48 L257.72 142.97 L258.36 143.47 L258.97 143.99 L259.57 144.52 L260.15 145.05 L260.70 145.59 L261.23 146.17 L261.75 146.78 L262.24 147.41 L262.72 148.05 L263.19 148.70 L263.64 149.36 L264.07 150.02 L264.49 150.70 L264.88 151.39 L265.25 152.09 L265.59 152.80 L265.93 153.52 L266.25 154.25 L266.55 154.99 L266.83 155.73 L267.09 156.47 L267.35 157.22 L267.59 157.98 L267.83 158.74 L268.05 159.51 L268.25 160.27 L268.44 161.04 L268.60 161.82 L268.75 162.59 L268.89 163.37 L269.03 164.15 L269.15 164.94 L269.27 165.72 L269.38 166.51 L269.47 167.30 L269.56 168.09 L269.64 168.88 L269.71 169.66 L269.78 170.45 L269.84 171.24 L269.90 172.04 L269.96 172.83 L270.01 173.62 L270.06 174.41 L270.11 175.20 L270.16 175.99 L270.20 176.79 L270.23 177.58 L270.27 178.37 L270.30 179.16 L270.33 179.95 L270.36 180.75 L270.39 181.54 L270.41 182.33 L270.44 183.12 L270.47 183.92 L270.49 184.71 L270.51 185.50 L270.53 186.29 L270.55 187.09 L270.57 187.88 L270.58 188.67 L270.59 189.47 L270.60 190.26 L270.61 191.05 L270.62 191.84 L270.63 192.64 L270.64 193.43 L270.65 194.22 L270.66 195.01 L270.66 195.81 L270.67 196.60 L270.68 197.39 L270.69 198.19 L270.69 198.98 L270.70 199.77 L270.70 200.56 L270.71 201.36 L270.71 202.15 L270.72 202.94 L270.72 203.74 L270.73 204.53 L270.73 205.32 L270.74 206.11 L270.74 206.91 L270.74 207.70 L270.75 208.49 L270.75 209.29 L270.75 210.08 L270.75 210.87 L270.75 211.66 L270.76 212.46 L270.76 213.25 L270.76 214.04 L270.76 214.84 L270.76 215.63 L270.77 216.42 L270.77 217.21 L270.77 218.01 L270.77 218.80 L270.77 219.59 L270.78 220.39 L270.78 221.18 L270.78 221.97 L270.78 222.76 L270.78 223.56 L270.78 224.35 L270.79 225.14 L270.79 225.94 L270.79 226.73 L270.79 227.52 L270.79 228.31 L270.79 229.11 L270.79 229.90 L270.79 230.69 L270.79 231.49 L270.80 232.28 L270.80 233.07 L270.80 233.86 L270.80 234.66 L270.80 235.45 L270.80 236.24 L270.80 237.04 L270.80 237.83 L270.80 238.62 L270.80 239.41 L270.80 240.21 L270.80 241.00" stroke="#2350ff" stroke-width="1.5" stroke-dasharray="4.1 1.7"/>
<path d="M468.50 166.20 L467.96 167.14 L467.48 168.10 L467.07 169.08 L466.74 170.08 L466.44 171.11 L466.17 172.15 L465.92 173.20 L465.69 174.25 L465.46 175.30 L465.25 176.35 L465.05 177.40 L464.86 178.46 L464.70 179.51 L464.55 180.57 L464.43 181.64 L464.33 182.70 L464.23 183.77 L464.13 184.84 L464.01 185.90 L463.88 186.96 L463.74 188.02 L463.58 189.09 L463.42 190.14 L463.25 191.20 L463.05 192.25 L462.80 193.30 L462.55 194.35 L462.36 195.40 L462.27 196.46 L462.21 197.52 L462.16 198.59 L462.12 199.66 L462.08 200.73 L462.05 201.80 L462.03 202.88 L462.01 203.95 L462.00 205.02 L461.99 206.09 L461.98 207.16 L461.97 208.24 L461.96 209.31 L461.95 210.38 L461.95 211.45 L461.94 212.52 L461.93 213.59 L461.93 214.66 L461.92 215.73 L461.92 216.80 L461.91 217.87 L461.91 218.94 L461.91 220.02 L461.90 221.09 L461.90 222.16 L461.90 223.23 L461.90 224.30 L461.90 225.37 L461.90 226.44 L461.90 227.51 L461.90 228.58 L461.90 229.65 L461.90 230.72 L461.90 231.80 L461.90 232.87 L461.90 233.94 L461.90 235.01 L461.90 236.08 L461.90 237.15 L461.90 238.22 L461.90 239.29 L461.90 240.36 L461.90 241.43 L461.90 242.50 L461.90 243.57 L461.90 244.65 L461.90 245.72 L461.90 246.79 L461.90 247.86 L461.90 248.93 L461.90 250.00" stroke="#2350ff" stroke-width="1.5" stroke-dasharray="4.1 1.7"/>
</g>
<rect x="57.5" y="29.5" width="411.0" height="250.0" fill="none" stroke="#000" stroke-width="1.1"/>
<path d="M414 221.5 H452" stroke="#ff0d0d" stroke-width="1.15"/>
<path d="M414 236.5 H452" stroke="#7fffd4" stroke-width="1.0"/>
<path d="M414 252.0 H452" stroke="#66ff00" stroke-width="1.5"/>
<path d="M414 267.4 H452" stroke="#2350ff" stroke-width="1.35"/>
<text font-family="Liberation Serif, serif" fill="#000" stroke="#000" stroke-width="0.25" font-size="14" text-anchor="end" x="49.6" y="286.0">10<tspan font-size="11.7" dy="-7.0">-5</tspan></text>
<text font-family="Liberation Serif, serif" fill="#000" stroke="#000" stroke-width="0.25" font-size="14" text-anchor="end" x="49.6" y="254.75">10<tspan font-size="11.7" dy="-7.0">-4</tspan></text>
<text font-family="Liberation Serif, serif" fill="#000" stroke="#000" stroke-width="0.25" font-size="14" text-anchor="end" x="49.6" y="223.5">10<tspan font-size="11.7" dy="-7.0">-3</tspan></text>
<text font-family="Liberation Serif, serif" fill="#000" stroke="#000" stroke-width="0.25" font-size="14" text-anchor="end" x="49.6" y="192.25">10<tspan font-size="11.7" dy="-7.0">-2</tspan></text>
<text font-family="Liberation Serif, serif" fill="#000" stroke="#000" stroke-width="0.25" font-size="14" text-anchor="end" x="49.6" y="161.0">10<tspan font-size="11.7" dy="-7.0">-1</tspan></text>
<text font-family="Liberation Serif, serif" fill="#000" stroke="#000" stroke-width="0.25" font-size="14" text-anchor="end" x="49.6" y="129.75">10<tspan font-size="11.7" dy="-7.0">0</tspan></text>
<text font-family="Liberation Serif, serif" fill="#000" stroke="#000" stroke-width="0.25" font-size="14" text-anchor="end" x="49.6" y="98.5">10<tspan font-size="11.7" dy="-7.0">1</tspan></text>
<text font-family="Liberation Serif, serif" fill="#000" stroke="#000" stroke-width="0.25" font-size="14" text-anchor="end" x="49.6" y="67.25">10<tspan font-size="11.7" dy="-7.0">2</tspan></text>
<text font-family="Liberation Serif, serif" fill="#000" stroke="#000" stroke-width="0.25" font-size="14" text-anchor="end" x="49.6" y="36.0">10<tspan font-size="11.7" dy="-7.0">3</tspan></text>
<text font-family="Liberation Serif, serif" fill="#000" stroke="#000" stroke-width="0.25" font-size="14" text-anchor="middle" x="58.50" y="299.4">10<tspan font-size="11.7" dy="-7.0">-6</tspan></text>
<text font-family="Liberation Serif, serif" fill="#000" stroke="#000" stroke-width="0.25" font-size="14" text-anchor="middle" x="127.00" y="299.4">10<tspan font-size="11.7" dy="-7.0">-5</tspan></text>
<text font-family="Liberation Serif, serif" fill="#000" stroke="#000" stroke-width="0.25" font-size="14" text-anchor="middle" x="195.50" y="299.4">10<tspan font-size="11.7" dy="-7.0">-4</tspan></text>
<text font-family="Liberation Serif, serif" fill="#000" stroke="#000" stroke-width="0.25" font-size="14" text-anchor="middle" x="264.00" y="299.4">10<tspan font-size="11.7" dy="-7.0">-3</tspan></text>
<text font-family="Liberation Serif, serif" fill="#000" stroke="#000" stroke-width="0.25" font-size="14" text-anchor="middle" x="332.50" y="299.4">10<tspan font-size="11.7" dy="-7.0">-2</tspan></text>
<text font-family="Liberation Serif, serif" fill="#000" stroke="#000" stroke-width="0.25" font-size="14" text-anchor="middle" x="401.00" y="299.4">10<tspan font-size="11.7" dy="-7.0">-1</tspan></text>
<text font-family="Liberation Serif, serif" fill="#000" stroke="#000" stroke-width="0.25" font-size="14" text-anchor="middle" x="469.50" y="299.4">10<tspan font-size="11.7" dy="-7.0">0</tspan></text>
<text font-family="Liberation Serif, serif" fill="#000" stroke="#000" stroke-width="0.25" font-size="13.87" text-anchor="middle" x="263.2" y="14.7"><tspan font-style="italic">k</tspan>=0.01 Mpc<tspan font-size="11.2" dy="-7.5">-1</tspan><tspan dy="7.5"> (CDM isocurvature)</tspan></text>
<text font-family="Liberation Serif, serif" fill="#000" stroke="#000" stroke-width="0.25" font-size="14" font-style="italic" text-anchor="middle" x="263" y="317.5">a/a<tspan font-size="11.2" dy="4">0</tspan></text>
<text font-family="Liberation Serif, serif" fill="#000" stroke="#000" stroke-width="0.25" font-size="14" text-anchor="middle" transform="translate(13,154.3) rotate(-90)"><tspan font-size="15.2">δ</tspan><tspan font-size="12.4" font-style="italic" dy="4">i</tspan></text>
<text font-family="Liberation Serif, serif" fill="#000" stroke="#000" stroke-width="0.25" font-size="14" text-anchor="end" x="406" y="225"><tspan font-size="15.2">δ</tspan><tspan font-size="11.2" dy="4">c</tspan></text>
<text font-family="Liberation Serif, serif" fill="#000" stroke="#000" stroke-width="0.25" font-size="14" text-anchor="end" x="406" y="240.3"><tspan font-size="15.2">δ</tspan><tspan font-size="11.2" dy="4">c</tspan><tspan dy="-4"> - </tspan><tspan font-style="italic">S</tspan><tspan font-size="11.2" dy="4">c</tspan></text>
<text font-family="Liberation Serif, serif" fill="#000" stroke="#000" stroke-width="0.25" font-size="14" text-anchor="end" x="406" y="255.6"><tspan font-size="15.2">δ</tspan><tspan font-size="11.2" dy="4">b</tspan></text>
<text font-family="Liberation Serif, serif" fill="#000" stroke="#000" stroke-width="0.25" font-size="14" text-anchor="end" x="407" y="270.9"><tspan font-size="15.2">δ</tspan><tspan font-size="12.6" dy="2.0" dx="0.9">γ</tspan></text>
</svg>
</body></html>
